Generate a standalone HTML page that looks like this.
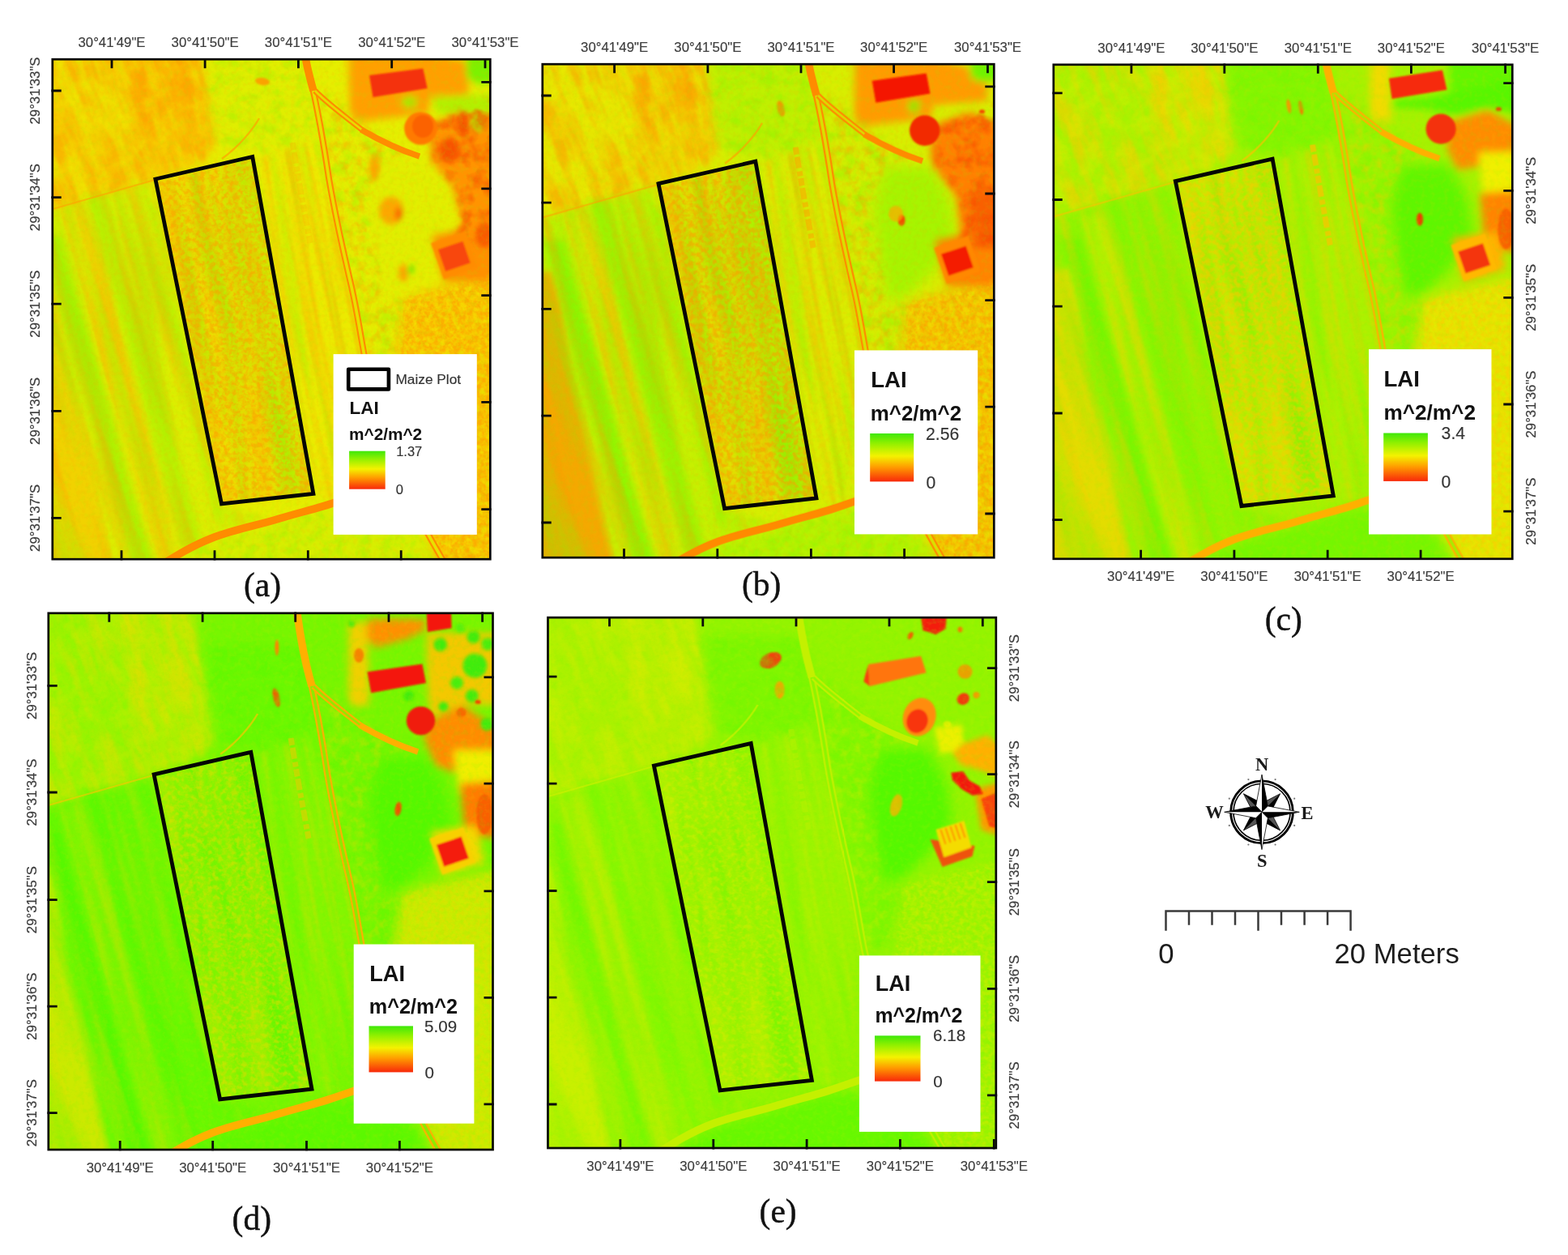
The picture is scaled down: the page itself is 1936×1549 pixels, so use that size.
<!DOCTYPE html>
<html lang="en"><head><meta charset="utf-8"><title>LAI maps of the maize plot</title>
<style>html,body{margin:0;padding:0;background:#fff}body{width:1936px;height:1549px;overflow:hidden}svg{display:block}text{font-family:"Liberation Sans", sans-serif}g[style] text{font-family:inherit}</style>
</head><body>
<svg xmlns="http://www.w3.org/2000/svg" width="1936" height="1549" viewBox="0 0 1936 1549">
<defs>
<linearGradient id="ramp" x1="0" y1="0" x2="0" y2="1"><stop offset="0" stop-color="#3ee80a"/><stop offset="0.2" stop-color="#8ef000"/><stop offset="0.47" stop-color="#f4f200"/><stop offset="0.7" stop-color="#ff9c00"/><stop offset="1" stop-color="#f8280a"/></linearGradient>
<clipPath id="clip_a"><rect x="64" y="72.5" width="542" height="618.5"/></clipPath>
<clipPath id="clip_b"><rect x="669" y="78.5" width="559" height="610.5"/></clipPath>
<clipPath id="clip_c"><rect x="1300" y="79" width="568" height="611.5"/></clipPath>
<clipPath id="clip_d"><rect x="59" y="756" width="550.2" height="663.7"/></clipPath>
<clipPath id="clip_e"><rect x="675.8" y="761.5" width="554.8" height="656.3"/></clipPath>
<filter id="b1" x="-30%" y="-30%" width="160%" height="160%"><feGaussianBlur stdDeviation="1"/></filter>
<filter id="b2" x="-30%" y="-30%" width="160%" height="160%"><feGaussianBlur stdDeviation="2"/></filter>
<filter id="b3" x="-30%" y="-30%" width="160%" height="160%"><feGaussianBlur stdDeviation="3"/></filter>
<filter id="b5" x="-30%" y="-30%" width="160%" height="160%"><feGaussianBlur stdDeviation="5"/></filter>
<filter id="b8" x="-30%" y="-30%" width="160%" height="160%"><feGaussianBlur stdDeviation="8"/></filter>
<filter id="b12" x="-30%" y="-30%" width="160%" height="160%"><feGaussianBlur stdDeviation="12"/></filter>
<filter id="b18" x="-30%" y="-30%" width="160%" height="160%"><feGaussianBlur stdDeviation="18"/></filter>
<filter id="bh" x="-10%" y="-10%" width="120%" height="120%"><feGaussianBlur stdDeviation="0.7"/></filter>
<filter id="tf85a00_40_005_39_40_30_3" x="-6%" y="-6%" width="112%" height="112%" color-interpolation-filters="sRGB"><feTurbulence type="fractalNoise" baseFrequency="0.05" numOctaves="3" seed="39"/><feColorMatrix type="matrix" values="0 0 0 0 0.973 0 0 0 0 0.353 0 0 0 0 0.000 3 0 0 0 -1.14"/><feGaussianBlur stdDeviation="0.6" result="n"/><feGaussianBlur in="SourceAlpha" stdDeviation="4" result="m"/><feComposite in="n" in2="m" operator="in"/></filter>
<filter id="tff9c00_50_0055x0012_3_30_30_3" x="-6%" y="-6%" width="112%" height="112%" color-interpolation-filters="sRGB"><feTurbulence type="fractalNoise" baseFrequency="0.055 0.012" numOctaves="3" seed="3"/><feColorMatrix type="matrix" values="0 0 0 0 1.000 0 0 0 0 0.612 0 0 0 0 0.000 3 0 0 0 -1.00"/><feGaussianBlur stdDeviation="0.6" result="n"/><feGaussianBlur in="SourceAlpha" stdDeviation="3" result="m"/><feComposite in="n" in2="m" operator="in"/></filter>
<filter id="tff9c00_50_008x002_4_30_30_3" x="-6%" y="-6%" width="112%" height="112%" color-interpolation-filters="sRGB"><feTurbulence type="fractalNoise" baseFrequency="0.08 0.02" numOctaves="3" seed="4"/><feColorMatrix type="matrix" values="0 0 0 0 1.000 0 0 0 0 0.612 0 0 0 0 0.000 3 0 0 0 -1.00"/><feGaussianBlur stdDeviation="0.6" result="n"/><feGaussianBlur in="SourceAlpha" stdDeviation="3" result="m"/><feComposite in="n" in2="m" operator="in"/></filter>
<filter id="tf2ee00_35_005_9_30_30_3" x="-6%" y="-6%" width="112%" height="112%" color-interpolation-filters="sRGB"><feTurbulence type="fractalNoise" baseFrequency="0.05" numOctaves="3" seed="9"/><feColorMatrix type="matrix" values="0 0 0 0 0.949 0 0 0 0 0.933 0 0 0 0 0.000 3 0 0 0 -1.20"/><feGaussianBlur stdDeviation="0.6" result="n"/><feGaussianBlur in="SourceAlpha" stdDeviation="3" result="m"/><feComposite in="n" in2="m" operator="in"/></filter>
<filter id="tff9c00_30_006x0004_13_30_30_2" x="-6%" y="-6%" width="112%" height="112%" color-interpolation-filters="sRGB"><feTurbulence type="fractalNoise" baseFrequency="0.06 0.004" numOctaves="2" seed="13"/><feColorMatrix type="matrix" values="0 0 0 0 1.000 0 0 0 0 0.612 0 0 0 0 0.000 3 0 0 0 -1.27"/><feGaussianBlur stdDeviation="0.6" result="n"/><feGaussianBlur in="SourceAlpha" stdDeviation="3" result="m"/><feComposite in="n" in2="m" operator="in"/></filter>
<filter id="t96f200_30_0045x0004_15_30_30_2" x="-6%" y="-6%" width="112%" height="112%" color-interpolation-filters="sRGB"><feTurbulence type="fractalNoise" baseFrequency="0.045 0.004" numOctaves="2" seed="15"/><feColorMatrix type="matrix" values="0 0 0 0 0.588 0 0 0 0 0.949 0 0 0 0 0.000 3 0 0 0 -1.27"/><feGaussianBlur stdDeviation="0.6" result="n"/><feGaussianBlur in="SourceAlpha" stdDeviation="3" result="m"/><feComposite in="n" in2="m" operator="in"/></filter>
<filter id="tff9c00_30_009x0004_23_30_30_2" x="-6%" y="-6%" width="112%" height="112%" color-interpolation-filters="sRGB"><feTurbulence type="fractalNoise" baseFrequency="0.09 0.004" numOctaves="2" seed="23"/><feColorMatrix type="matrix" values="0 0 0 0 1.000 0 0 0 0 0.612 0 0 0 0 0.000 3 0 0 0 -1.27"/><feGaussianBlur stdDeviation="0.6" result="n"/><feGaussianBlur in="SourceAlpha" stdDeviation="3" result="m"/><feComposite in="n" in2="m" operator="in"/></filter>
<filter id="t96f200_24_006x0004_25_30_30_2" x="-6%" y="-6%" width="112%" height="112%" color-interpolation-filters="sRGB"><feTurbulence type="fractalNoise" baseFrequency="0.06 0.004" numOctaves="2" seed="25"/><feColorMatrix type="matrix" values="0 0 0 0 0.588 0 0 0 0 0.949 0 0 0 0 0.000 3 0 0 0 -1.35"/><feGaussianBlur stdDeviation="0.6" result="n"/><feGaussianBlur in="SourceAlpha" stdDeviation="3" result="m"/><feComposite in="n" in2="m" operator="in"/></filter>
<filter id="t96f200_30_006_27_30_30_3" x="-6%" y="-6%" width="112%" height="112%" color-interpolation-filters="sRGB"><feTurbulence type="fractalNoise" baseFrequency="0.06" numOctaves="3" seed="27"/><feColorMatrix type="matrix" values="0 0 0 0 0.588 0 0 0 0 0.949 0 0 0 0 0.000 3 0 0 0 -1.27"/><feGaussianBlur stdDeviation="0.6" result="n"/><feGaussianBlur in="SourceAlpha" stdDeviation="3" result="m"/><feComposite in="n" in2="m" operator="in"/></filter>
<filter id="t96f200_30_006_28_30_30_3" x="-6%" y="-6%" width="112%" height="112%" color-interpolation-filters="sRGB"><feTurbulence type="fractalNoise" baseFrequency="0.06" numOctaves="3" seed="28"/><feColorMatrix type="matrix" values="0 0 0 0 0.588 0 0 0 0 0.949 0 0 0 0 0.000 3 0 0 0 -1.27"/><feGaussianBlur stdDeviation="0.6" result="n"/><feGaussianBlur in="SourceAlpha" stdDeviation="3" result="m"/><feComposite in="n" in2="m" operator="in"/></filter>
<filter id="tff9c00_25_008_29_30_30_3" x="-6%" y="-6%" width="112%" height="112%" color-interpolation-filters="sRGB"><feTurbulence type="fractalNoise" baseFrequency="0.08" numOctaves="3" seed="29"/><feColorMatrix type="matrix" values="0 0 0 0 1.000 0 0 0 0 0.612 0 0 0 0 0.000 3 0 0 0 -1.34"/><feGaussianBlur stdDeviation="0.6" result="n"/><feGaussianBlur in="SourceAlpha" stdDeviation="3" result="m"/><feComposite in="n" in2="m" operator="in"/></filter>
<filter id="t96f200_30_0045x0004_33_10_30_2" x="-6%" y="-6%" width="112%" height="112%" color-interpolation-filters="sRGB"><feTurbulence type="fractalNoise" baseFrequency="0.045 0.004" numOctaves="2" seed="33"/><feColorMatrix type="matrix" values="0 0 0 0 0.588 0 0 0 0 0.949 0 0 0 0 0.000 3 0 0 0 -1.27"/><feGaussianBlur stdDeviation="0.6" result="n"/><feGaussianBlur in="SourceAlpha" stdDeviation="1" result="m"/><feComposite in="n" in2="m" operator="in"/></filter>
<filter id="tff9c00_42_017_31_10_30_3" x="-6%" y="-6%" width="112%" height="112%" color-interpolation-filters="sRGB"><feTurbulence type="fractalNoise" baseFrequency="0.17" numOctaves="3" seed="31"/><feColorMatrix type="matrix" values="0 0 0 0 1.000 0 0 0 0 0.612 0 0 0 0 0.000 3 0 0 0 -1.11"/><feGaussianBlur stdDeviation="0.7" result="n"/><feGaussianBlur in="SourceAlpha" stdDeviation="1" result="m"/><feComposite in="n" in2="m" operator="in"/></filter>
<filter id="tff9c00_33_006x001_32_10_30_2" x="-6%" y="-6%" width="112%" height="112%" color-interpolation-filters="sRGB"><feTurbulence type="fractalNoise" baseFrequency="0.06 0.01" numOctaves="2" seed="32"/><feColorMatrix type="matrix" values="0 0 0 0 1.000 0 0 0 0 0.612 0 0 0 0 0.000 3 0 0 0 -1.22"/><feGaussianBlur stdDeviation="0.6" result="n"/><feGaussianBlur in="SourceAlpha" stdDeviation="1" result="m"/><feComposite in="n" in2="m" operator="in"/></filter>
<filter id="tff9c00_55_02_35_30_30_2" x="-6%" y="-6%" width="112%" height="112%" color-interpolation-filters="sRGB"><feTurbulence type="fractalNoise" baseFrequency="0.2" numOctaves="2" seed="35"/><feColorMatrix type="matrix" values="0 0 0 0 1.000 0 0 0 0 0.612 0 0 0 0 0.000 3 0 0 0 -0.93"/><feGaussianBlur stdDeviation="0.6" result="n"/><feGaussianBlur in="SourceAlpha" stdDeviation="3" result="m"/><feComposite in="n" in2="m" operator="in"/></filter>
<filter id="tf2ee00_30_012_37_30_30_3" x="-6%" y="-6%" width="112%" height="112%" color-interpolation-filters="sRGB"><feTurbulence type="fractalNoise" baseFrequency="0.12" numOctaves="3" seed="37"/><feColorMatrix type="matrix" values="0 0 0 0 0.949 0 0 0 0 0.933 0 0 0 0 0.000 3 0 0 0 -1.27"/><feGaussianBlur stdDeviation="0.6" result="n"/><feGaussianBlur in="SourceAlpha" stdDeviation="3" result="m"/><feComposite in="n" in2="m" operator="in"/></filter>
<filter id="t96f200_35_007_45_30_30_3" x="-6%" y="-6%" width="112%" height="112%" color-interpolation-filters="sRGB"><feTurbulence type="fractalNoise" baseFrequency="0.07" numOctaves="3" seed="45"/><feColorMatrix type="matrix" values="0 0 0 0 0.588 0 0 0 0 0.949 0 0 0 0 0.000 3 0 0 0 -1.20"/><feGaussianBlur stdDeviation="0.6" result="n"/><feGaussianBlur in="SourceAlpha" stdDeviation="3" result="m"/><feComposite in="n" in2="m" operator="in"/></filter>
<filter id="tff9c00_30_017_51_0_40_3" x="-6%" y="-6%" width="112%" height="112%" color-interpolation-filters="sRGB"><feTurbulence type="fractalNoise" baseFrequency="0.17" numOctaves="3" seed="51"/><feColorMatrix type="matrix" values="0 0 0 0 1.000 0 0 0 0 0.612 0 0 0 0 0.000 4 0 0 0 -1.86"/><feGaussianBlur stdDeviation="0.6" result="n"/><feGaussianBlur in="SourceAlpha" stdDeviation="0" result="m"/><feComposite in="n" in2="m" operator="in"/></filter>
<filter id="t96f200_28_015_53_0_40_3" x="-6%" y="-6%" width="112%" height="112%" color-interpolation-filters="sRGB"><feTurbulence type="fractalNoise" baseFrequency="0.15" numOctaves="3" seed="53"/><feColorMatrix type="matrix" values="0 0 0 0 0.588 0 0 0 0 0.949 0 0 0 0 0.000 4 0 0 0 -1.90"/><feGaussianBlur stdDeviation="0.6" result="n"/><feGaussianBlur in="SourceAlpha" stdDeviation="0" result="m"/><feComposite in="n" in2="m" operator="in"/></filter>
<filter id="tf84800_35_005_39_40_30_3" x="-6%" y="-6%" width="112%" height="112%" color-interpolation-filters="sRGB"><feTurbulence type="fractalNoise" baseFrequency="0.05" numOctaves="3" seed="39"/><feColorMatrix type="matrix" values="0 0 0 0 0.973 0 0 0 0 0.282 0 0 0 0 0.000 3 0 0 0 -1.20"/><feGaussianBlur stdDeviation="0.6" result="n"/><feGaussianBlur in="SourceAlpha" stdDeviation="4" result="m"/><feComposite in="n" in2="m" operator="in"/></filter>
<filter id="tff9800_40_0055x0012_3_30_30_3" x="-6%" y="-6%" width="112%" height="112%" color-interpolation-filters="sRGB"><feTurbulence type="fractalNoise" baseFrequency="0.055 0.012" numOctaves="3" seed="3"/><feColorMatrix type="matrix" values="0 0 0 0 1.000 0 0 0 0 0.596 0 0 0 0 0.000 3 0 0 0 -1.14"/><feGaussianBlur stdDeviation="0.6" result="n"/><feGaussianBlur in="SourceAlpha" stdDeviation="3" result="m"/><feComposite in="n" in2="m" operator="in"/></filter>
<filter id="tff9800_40_008x002_4_30_30_3" x="-6%" y="-6%" width="112%" height="112%" color-interpolation-filters="sRGB"><feTurbulence type="fractalNoise" baseFrequency="0.08 0.02" numOctaves="3" seed="4"/><feColorMatrix type="matrix" values="0 0 0 0 1.000 0 0 0 0 0.596 0 0 0 0 0.000 3 0 0 0 -1.14"/><feGaussianBlur stdDeviation="0.6" result="n"/><feGaussianBlur in="SourceAlpha" stdDeviation="3" result="m"/><feComposite in="n" in2="m" operator="in"/></filter>
<filter id="teeee00_35_005_9_30_30_3" x="-6%" y="-6%" width="112%" height="112%" color-interpolation-filters="sRGB"><feTurbulence type="fractalNoise" baseFrequency="0.05" numOctaves="3" seed="9"/><feColorMatrix type="matrix" values="0 0 0 0 0.933 0 0 0 0 0.933 0 0 0 0 0.000 3 0 0 0 -1.20"/><feGaussianBlur stdDeviation="0.6" result="n"/><feGaussianBlur in="SourceAlpha" stdDeviation="3" result="m"/><feComposite in="n" in2="m" operator="in"/></filter>
<filter id="tff9800_25_006x0004_13_30_30_2" x="-6%" y="-6%" width="112%" height="112%" color-interpolation-filters="sRGB"><feTurbulence type="fractalNoise" baseFrequency="0.06 0.004" numOctaves="2" seed="13"/><feColorMatrix type="matrix" values="0 0 0 0 1.000 0 0 0 0 0.596 0 0 0 0 0.000 3 0 0 0 -1.34"/><feGaussianBlur stdDeviation="0.6" result="n"/><feGaussianBlur in="SourceAlpha" stdDeviation="3" result="m"/><feComposite in="n" in2="m" operator="in"/></filter>
<filter id="t84f400_35_0045x0004_15_30_30_2" x="-6%" y="-6%" width="112%" height="112%" color-interpolation-filters="sRGB"><feTurbulence type="fractalNoise" baseFrequency="0.045 0.004" numOctaves="2" seed="15"/><feColorMatrix type="matrix" values="0 0 0 0 0.518 0 0 0 0 0.957 0 0 0 0 0.000 3 0 0 0 -1.20"/><feGaussianBlur stdDeviation="0.6" result="n"/><feGaussianBlur in="SourceAlpha" stdDeviation="3" result="m"/><feComposite in="n" in2="m" operator="in"/></filter>
<filter id="tff9800_25_009x0004_23_30_30_2" x="-6%" y="-6%" width="112%" height="112%" color-interpolation-filters="sRGB"><feTurbulence type="fractalNoise" baseFrequency="0.09 0.004" numOctaves="2" seed="23"/><feColorMatrix type="matrix" values="0 0 0 0 1.000 0 0 0 0 0.596 0 0 0 0 0.000 3 0 0 0 -1.34"/><feGaussianBlur stdDeviation="0.6" result="n"/><feGaussianBlur in="SourceAlpha" stdDeviation="3" result="m"/><feComposite in="n" in2="m" operator="in"/></filter>
<filter id="t84f400_27_006x0004_25_30_30_2" x="-6%" y="-6%" width="112%" height="112%" color-interpolation-filters="sRGB"><feTurbulence type="fractalNoise" baseFrequency="0.06 0.004" numOctaves="2" seed="25"/><feColorMatrix type="matrix" values="0 0 0 0 0.518 0 0 0 0 0.957 0 0 0 0 0.000 3 0 0 0 -1.30"/><feGaussianBlur stdDeviation="0.6" result="n"/><feGaussianBlur in="SourceAlpha" stdDeviation="3" result="m"/><feComposite in="n" in2="m" operator="in"/></filter>
<filter id="t84f400_30_006_27_30_30_3" x="-6%" y="-6%" width="112%" height="112%" color-interpolation-filters="sRGB"><feTurbulence type="fractalNoise" baseFrequency="0.06" numOctaves="3" seed="27"/><feColorMatrix type="matrix" values="0 0 0 0 0.518 0 0 0 0 0.957 0 0 0 0 0.000 3 0 0 0 -1.27"/><feGaussianBlur stdDeviation="0.6" result="n"/><feGaussianBlur in="SourceAlpha" stdDeviation="3" result="m"/><feComposite in="n" in2="m" operator="in"/></filter>
<filter id="t84f400_30_006_28_30_30_3" x="-6%" y="-6%" width="112%" height="112%" color-interpolation-filters="sRGB"><feTurbulence type="fractalNoise" baseFrequency="0.06" numOctaves="3" seed="28"/><feColorMatrix type="matrix" values="0 0 0 0 0.518 0 0 0 0 0.957 0 0 0 0 0.000 3 0 0 0 -1.27"/><feGaussianBlur stdDeviation="0.6" result="n"/><feGaussianBlur in="SourceAlpha" stdDeviation="3" result="m"/><feComposite in="n" in2="m" operator="in"/></filter>
<filter id="tff9800_25_008_29_30_30_3" x="-6%" y="-6%" width="112%" height="112%" color-interpolation-filters="sRGB"><feTurbulence type="fractalNoise" baseFrequency="0.08" numOctaves="3" seed="29"/><feColorMatrix type="matrix" values="0 0 0 0 1.000 0 0 0 0 0.596 0 0 0 0 0.000 3 0 0 0 -1.34"/><feGaussianBlur stdDeviation="0.6" result="n"/><feGaussianBlur in="SourceAlpha" stdDeviation="3" result="m"/><feComposite in="n" in2="m" operator="in"/></filter>
<filter id="t84f400_35_0045x0004_33_10_30_2" x="-6%" y="-6%" width="112%" height="112%" color-interpolation-filters="sRGB"><feTurbulence type="fractalNoise" baseFrequency="0.045 0.004" numOctaves="2" seed="33"/><feColorMatrix type="matrix" values="0 0 0 0 0.518 0 0 0 0 0.957 0 0 0 0 0.000 3 0 0 0 -1.20"/><feGaussianBlur stdDeviation="0.6" result="n"/><feGaussianBlur in="SourceAlpha" stdDeviation="1" result="m"/><feComposite in="n" in2="m" operator="in"/></filter>
<filter id="tff9800_45_017_31_10_30_3" x="-6%" y="-6%" width="112%" height="112%" color-interpolation-filters="sRGB"><feTurbulence type="fractalNoise" baseFrequency="0.17" numOctaves="3" seed="31"/><feColorMatrix type="matrix" values="0 0 0 0 1.000 0 0 0 0 0.596 0 0 0 0 0.000 3 0 0 0 -1.07"/><feGaussianBlur stdDeviation="0.7" result="n"/><feGaussianBlur in="SourceAlpha" stdDeviation="1" result="m"/><feComposite in="n" in2="m" operator="in"/></filter>
<filter id="tff9800_36_006x001_32_10_30_2" x="-6%" y="-6%" width="112%" height="112%" color-interpolation-filters="sRGB"><feTurbulence type="fractalNoise" baseFrequency="0.06 0.01" numOctaves="2" seed="32"/><feColorMatrix type="matrix" values="0 0 0 0 1.000 0 0 0 0 0.596 0 0 0 0 0.000 3 0 0 0 -1.19"/><feGaussianBlur stdDeviation="0.6" result="n"/><feGaussianBlur in="SourceAlpha" stdDeviation="1" result="m"/><feComposite in="n" in2="m" operator="in"/></filter>
<filter id="tff9800_50_02_35_30_30_2" x="-6%" y="-6%" width="112%" height="112%" color-interpolation-filters="sRGB"><feTurbulence type="fractalNoise" baseFrequency="0.2" numOctaves="2" seed="35"/><feColorMatrix type="matrix" values="0 0 0 0 1.000 0 0 0 0 0.596 0 0 0 0 0.000 3 0 0 0 -1.00"/><feGaussianBlur stdDeviation="0.6" result="n"/><feGaussianBlur in="SourceAlpha" stdDeviation="3" result="m"/><feComposite in="n" in2="m" operator="in"/></filter>
<filter id="teeee00_30_012_37_30_30_3" x="-6%" y="-6%" width="112%" height="112%" color-interpolation-filters="sRGB"><feTurbulence type="fractalNoise" baseFrequency="0.12" numOctaves="3" seed="37"/><feColorMatrix type="matrix" values="0 0 0 0 0.933 0 0 0 0 0.933 0 0 0 0 0.000 3 0 0 0 -1.27"/><feGaussianBlur stdDeviation="0.6" result="n"/><feGaussianBlur in="SourceAlpha" stdDeviation="3" result="m"/><feComposite in="n" in2="m" operator="in"/></filter>
<filter id="t84f400_35_007_45_30_30_3" x="-6%" y="-6%" width="112%" height="112%" color-interpolation-filters="sRGB"><feTurbulence type="fractalNoise" baseFrequency="0.07" numOctaves="3" seed="45"/><feColorMatrix type="matrix" values="0 0 0 0 0.518 0 0 0 0 0.957 0 0 0 0 0.000 3 0 0 0 -1.20"/><feGaussianBlur stdDeviation="0.6" result="n"/><feGaussianBlur in="SourceAlpha" stdDeviation="3" result="m"/><feComposite in="n" in2="m" operator="in"/></filter>
<filter id="tff9800_30_017_51_0_40_3" x="-6%" y="-6%" width="112%" height="112%" color-interpolation-filters="sRGB"><feTurbulence type="fractalNoise" baseFrequency="0.17" numOctaves="3" seed="51"/><feColorMatrix type="matrix" values="0 0 0 0 1.000 0 0 0 0 0.596 0 0 0 0 0.000 4 0 0 0 -1.86"/><feGaussianBlur stdDeviation="0.6" result="n"/><feGaussianBlur in="SourceAlpha" stdDeviation="0" result="m"/><feComposite in="n" in2="m" operator="in"/></filter>
<filter id="t84f400_28_015_53_0_40_3" x="-6%" y="-6%" width="112%" height="112%" color-interpolation-filters="sRGB"><feTurbulence type="fractalNoise" baseFrequency="0.15" numOctaves="3" seed="53"/><feColorMatrix type="matrix" values="0 0 0 0 0.518 0 0 0 0 0.957 0 0 0 0 0.000 4 0 0 0 -1.90"/><feGaussianBlur stdDeviation="0.6" result="n"/><feGaussianBlur in="SourceAlpha" stdDeviation="0" result="m"/><feComposite in="n" in2="m" operator="in"/></filter>
<filter id="tffc800_35_0055x0012_3_30_30_3" x="-6%" y="-6%" width="112%" height="112%" color-interpolation-filters="sRGB"><feTurbulence type="fractalNoise" baseFrequency="0.055 0.012" numOctaves="3" seed="3"/><feColorMatrix type="matrix" values="0 0 0 0 1.000 0 0 0 0 0.784 0 0 0 0 0.000 3 0 0 0 -1.20"/><feGaussianBlur stdDeviation="0.6" result="n"/><feGaussianBlur in="SourceAlpha" stdDeviation="3" result="m"/><feComposite in="n" in2="m" operator="in"/></filter>
<filter id="tffc800_35_008x002_4_30_30_3" x="-6%" y="-6%" width="112%" height="112%" color-interpolation-filters="sRGB"><feTurbulence type="fractalNoise" baseFrequency="0.08 0.02" numOctaves="3" seed="4"/><feColorMatrix type="matrix" values="0 0 0 0 1.000 0 0 0 0 0.784 0 0 0 0 0.000 3 0 0 0 -1.20"/><feGaussianBlur stdDeviation="0.6" result="n"/><feGaussianBlur in="SourceAlpha" stdDeviation="3" result="m"/><feComposite in="n" in2="m" operator="in"/></filter>
<filter id="te4ee00_35_005_9_30_30_3" x="-6%" y="-6%" width="112%" height="112%" color-interpolation-filters="sRGB"><feTurbulence type="fractalNoise" baseFrequency="0.05" numOctaves="3" seed="9"/><feColorMatrix type="matrix" values="0 0 0 0 0.894 0 0 0 0 0.933 0 0 0 0 0.000 3 0 0 0 -1.20"/><feGaussianBlur stdDeviation="0.6" result="n"/><feGaussianBlur in="SourceAlpha" stdDeviation="3" result="m"/><feComposite in="n" in2="m" operator="in"/></filter>
<filter id="tffc800_25_006x0004_13_30_30_2" x="-6%" y="-6%" width="112%" height="112%" color-interpolation-filters="sRGB"><feTurbulence type="fractalNoise" baseFrequency="0.06 0.004" numOctaves="2" seed="13"/><feColorMatrix type="matrix" values="0 0 0 0 1.000 0 0 0 0 0.784 0 0 0 0 0.000 3 0 0 0 -1.34"/><feGaussianBlur stdDeviation="0.6" result="n"/><feGaussianBlur in="SourceAlpha" stdDeviation="3" result="m"/><feComposite in="n" in2="m" operator="in"/></filter>
<filter id="t70f600_35_0045x0004_15_30_30_2" x="-6%" y="-6%" width="112%" height="112%" color-interpolation-filters="sRGB"><feTurbulence type="fractalNoise" baseFrequency="0.045 0.004" numOctaves="2" seed="15"/><feColorMatrix type="matrix" values="0 0 0 0 0.439 0 0 0 0 0.965 0 0 0 0 0.000 3 0 0 0 -1.20"/><feGaussianBlur stdDeviation="0.6" result="n"/><feGaussianBlur in="SourceAlpha" stdDeviation="3" result="m"/><feComposite in="n" in2="m" operator="in"/></filter>
<filter id="tffc800_25_009x0004_23_30_30_2" x="-6%" y="-6%" width="112%" height="112%" color-interpolation-filters="sRGB"><feTurbulence type="fractalNoise" baseFrequency="0.09 0.004" numOctaves="2" seed="23"/><feColorMatrix type="matrix" values="0 0 0 0 1.000 0 0 0 0 0.784 0 0 0 0 0.000 3 0 0 0 -1.34"/><feGaussianBlur stdDeviation="0.6" result="n"/><feGaussianBlur in="SourceAlpha" stdDeviation="3" result="m"/><feComposite in="n" in2="m" operator="in"/></filter>
<filter id="t70f600_27_006x0004_25_30_30_2" x="-6%" y="-6%" width="112%" height="112%" color-interpolation-filters="sRGB"><feTurbulence type="fractalNoise" baseFrequency="0.06 0.004" numOctaves="2" seed="25"/><feColorMatrix type="matrix" values="0 0 0 0 0.439 0 0 0 0 0.965 0 0 0 0 0.000 3 0 0 0 -1.30"/><feGaussianBlur stdDeviation="0.6" result="n"/><feGaussianBlur in="SourceAlpha" stdDeviation="3" result="m"/><feComposite in="n" in2="m" operator="in"/></filter>
<filter id="t70f600_30_006_27_30_30_3" x="-6%" y="-6%" width="112%" height="112%" color-interpolation-filters="sRGB"><feTurbulence type="fractalNoise" baseFrequency="0.06" numOctaves="3" seed="27"/><feColorMatrix type="matrix" values="0 0 0 0 0.439 0 0 0 0 0.965 0 0 0 0 0.000 3 0 0 0 -1.27"/><feGaussianBlur stdDeviation="0.6" result="n"/><feGaussianBlur in="SourceAlpha" stdDeviation="3" result="m"/><feComposite in="n" in2="m" operator="in"/></filter>
<filter id="t70f600_30_006_28_30_30_3" x="-6%" y="-6%" width="112%" height="112%" color-interpolation-filters="sRGB"><feTurbulence type="fractalNoise" baseFrequency="0.06" numOctaves="3" seed="28"/><feColorMatrix type="matrix" values="0 0 0 0 0.439 0 0 0 0 0.965 0 0 0 0 0.000 3 0 0 0 -1.27"/><feGaussianBlur stdDeviation="0.6" result="n"/><feGaussianBlur in="SourceAlpha" stdDeviation="3" result="m"/><feComposite in="n" in2="m" operator="in"/></filter>
<filter id="tffc800_25_008_29_30_30_3" x="-6%" y="-6%" width="112%" height="112%" color-interpolation-filters="sRGB"><feTurbulence type="fractalNoise" baseFrequency="0.08" numOctaves="3" seed="29"/><feColorMatrix type="matrix" values="0 0 0 0 1.000 0 0 0 0 0.784 0 0 0 0 0.000 3 0 0 0 -1.34"/><feGaussianBlur stdDeviation="0.6" result="n"/><feGaussianBlur in="SourceAlpha" stdDeviation="3" result="m"/><feComposite in="n" in2="m" operator="in"/></filter>
<filter id="t70f600_35_0045x0004_33_10_30_2" x="-6%" y="-6%" width="112%" height="112%" color-interpolation-filters="sRGB"><feTurbulence type="fractalNoise" baseFrequency="0.045 0.004" numOctaves="2" seed="33"/><feColorMatrix type="matrix" values="0 0 0 0 0.439 0 0 0 0 0.965 0 0 0 0 0.000 3 0 0 0 -1.20"/><feGaussianBlur stdDeviation="0.6" result="n"/><feGaussianBlur in="SourceAlpha" stdDeviation="1" result="m"/><feComposite in="n" in2="m" operator="in"/></filter>
<filter id="tffc800_45_017_31_10_30_3" x="-6%" y="-6%" width="112%" height="112%" color-interpolation-filters="sRGB"><feTurbulence type="fractalNoise" baseFrequency="0.17" numOctaves="3" seed="31"/><feColorMatrix type="matrix" values="0 0 0 0 1.000 0 0 0 0 0.784 0 0 0 0 0.000 3 0 0 0 -1.07"/><feGaussianBlur stdDeviation="0.7" result="n"/><feGaussianBlur in="SourceAlpha" stdDeviation="1" result="m"/><feComposite in="n" in2="m" operator="in"/></filter>
<filter id="tffc800_36_006x001_32_10_30_2" x="-6%" y="-6%" width="112%" height="112%" color-interpolation-filters="sRGB"><feTurbulence type="fractalNoise" baseFrequency="0.06 0.01" numOctaves="2" seed="32"/><feColorMatrix type="matrix" values="0 0 0 0 1.000 0 0 0 0 0.784 0 0 0 0 0.000 3 0 0 0 -1.19"/><feGaussianBlur stdDeviation="0.6" result="n"/><feGaussianBlur in="SourceAlpha" stdDeviation="1" result="m"/><feComposite in="n" in2="m" operator="in"/></filter>
<filter id="tffc800_45_02_35_30_30_2" x="-6%" y="-6%" width="112%" height="112%" color-interpolation-filters="sRGB"><feTurbulence type="fractalNoise" baseFrequency="0.2" numOctaves="2" seed="35"/><feColorMatrix type="matrix" values="0 0 0 0 1.000 0 0 0 0 0.784 0 0 0 0 0.000 3 0 0 0 -1.07"/><feGaussianBlur stdDeviation="0.6" result="n"/><feGaussianBlur in="SourceAlpha" stdDeviation="3" result="m"/><feComposite in="n" in2="m" operator="in"/></filter>
<filter id="te4ee00_30_012_37_30_30_3" x="-6%" y="-6%" width="112%" height="112%" color-interpolation-filters="sRGB"><feTurbulence type="fractalNoise" baseFrequency="0.12" numOctaves="3" seed="37"/><feColorMatrix type="matrix" values="0 0 0 0 0.894 0 0 0 0 0.933 0 0 0 0 0.000 3 0 0 0 -1.27"/><feGaussianBlur stdDeviation="0.6" result="n"/><feGaussianBlur in="SourceAlpha" stdDeviation="3" result="m"/><feComposite in="n" in2="m" operator="in"/></filter>
<filter id="t70f600_35_007_45_30_30_3" x="-6%" y="-6%" width="112%" height="112%" color-interpolation-filters="sRGB"><feTurbulence type="fractalNoise" baseFrequency="0.07" numOctaves="3" seed="45"/><feColorMatrix type="matrix" values="0 0 0 0 0.439 0 0 0 0 0.965 0 0 0 0 0.000 3 0 0 0 -1.20"/><feGaussianBlur stdDeviation="0.6" result="n"/><feGaussianBlur in="SourceAlpha" stdDeviation="3" result="m"/><feComposite in="n" in2="m" operator="in"/></filter>
<filter id="tffc800_30_017_51_0_40_3" x="-6%" y="-6%" width="112%" height="112%" color-interpolation-filters="sRGB"><feTurbulence type="fractalNoise" baseFrequency="0.17" numOctaves="3" seed="51"/><feColorMatrix type="matrix" values="0 0 0 0 1.000 0 0 0 0 0.784 0 0 0 0 0.000 4 0 0 0 -1.86"/><feGaussianBlur stdDeviation="0.6" result="n"/><feGaussianBlur in="SourceAlpha" stdDeviation="0" result="m"/><feComposite in="n" in2="m" operator="in"/></filter>
<filter id="t70f600_28_015_53_0_40_3" x="-6%" y="-6%" width="112%" height="112%" color-interpolation-filters="sRGB"><feTurbulence type="fractalNoise" baseFrequency="0.15" numOctaves="3" seed="53"/><feColorMatrix type="matrix" values="0 0 0 0 0.439 0 0 0 0 0.965 0 0 0 0 0.000 4 0 0 0 -1.90"/><feGaussianBlur stdDeviation="0.6" result="n"/><feGaussianBlur in="SourceAlpha" stdDeviation="0" result="m"/><feComposite in="n" in2="m" operator="in"/></filter>
<filter id="te8dc00_35_0055x0012_3_30_30_3" x="-6%" y="-6%" width="112%" height="112%" color-interpolation-filters="sRGB"><feTurbulence type="fractalNoise" baseFrequency="0.055 0.012" numOctaves="3" seed="3"/><feColorMatrix type="matrix" values="0 0 0 0 0.910 0 0 0 0 0.863 0 0 0 0 0.000 3 0 0 0 -1.20"/><feGaussianBlur stdDeviation="0.6" result="n"/><feGaussianBlur in="SourceAlpha" stdDeviation="3" result="m"/><feComposite in="n" in2="m" operator="in"/></filter>
<filter id="te8dc00_35_008x002_4_30_30_3" x="-6%" y="-6%" width="112%" height="112%" color-interpolation-filters="sRGB"><feTurbulence type="fractalNoise" baseFrequency="0.08 0.02" numOctaves="3" seed="4"/><feColorMatrix type="matrix" values="0 0 0 0 0.910 0 0 0 0 0.863 0 0 0 0 0.000 3 0 0 0 -1.20"/><feGaussianBlur stdDeviation="0.6" result="n"/><feGaussianBlur in="SourceAlpha" stdDeviation="3" result="m"/><feComposite in="n" in2="m" operator="in"/></filter>
<filter id="tc8f000_35_005_9_30_30_3" x="-6%" y="-6%" width="112%" height="112%" color-interpolation-filters="sRGB"><feTurbulence type="fractalNoise" baseFrequency="0.05" numOctaves="3" seed="9"/><feColorMatrix type="matrix" values="0 0 0 0 0.784 0 0 0 0 0.941 0 0 0 0 0.000 3 0 0 0 -1.20"/><feGaussianBlur stdDeviation="0.6" result="n"/><feGaussianBlur in="SourceAlpha" stdDeviation="3" result="m"/><feComposite in="n" in2="m" operator="in"/></filter>
<filter id="te8dc00_25_006x0004_13_30_30_2" x="-6%" y="-6%" width="112%" height="112%" color-interpolation-filters="sRGB"><feTurbulence type="fractalNoise" baseFrequency="0.06 0.004" numOctaves="2" seed="13"/><feColorMatrix type="matrix" values="0 0 0 0 0.910 0 0 0 0 0.863 0 0 0 0 0.000 3 0 0 0 -1.34"/><feGaussianBlur stdDeviation="0.6" result="n"/><feGaussianBlur in="SourceAlpha" stdDeviation="3" result="m"/><feComposite in="n" in2="m" operator="in"/></filter>
<filter id="t54f800_35_0045x0004_15_30_30_2" x="-6%" y="-6%" width="112%" height="112%" color-interpolation-filters="sRGB"><feTurbulence type="fractalNoise" baseFrequency="0.045 0.004" numOctaves="2" seed="15"/><feColorMatrix type="matrix" values="0 0 0 0 0.329 0 0 0 0 0.973 0 0 0 0 0.000 3 0 0 0 -1.20"/><feGaussianBlur stdDeviation="0.6" result="n"/><feGaussianBlur in="SourceAlpha" stdDeviation="3" result="m"/><feComposite in="n" in2="m" operator="in"/></filter>
<filter id="te8dc00_25_009x0004_23_30_30_2" x="-6%" y="-6%" width="112%" height="112%" color-interpolation-filters="sRGB"><feTurbulence type="fractalNoise" baseFrequency="0.09 0.004" numOctaves="2" seed="23"/><feColorMatrix type="matrix" values="0 0 0 0 0.910 0 0 0 0 0.863 0 0 0 0 0.000 3 0 0 0 -1.34"/><feGaussianBlur stdDeviation="0.6" result="n"/><feGaussianBlur in="SourceAlpha" stdDeviation="3" result="m"/><feComposite in="n" in2="m" operator="in"/></filter>
<filter id="t54f800_27_006x0004_25_30_30_2" x="-6%" y="-6%" width="112%" height="112%" color-interpolation-filters="sRGB"><feTurbulence type="fractalNoise" baseFrequency="0.06 0.004" numOctaves="2" seed="25"/><feColorMatrix type="matrix" values="0 0 0 0 0.329 0 0 0 0 0.973 0 0 0 0 0.000 3 0 0 0 -1.30"/><feGaussianBlur stdDeviation="0.6" result="n"/><feGaussianBlur in="SourceAlpha" stdDeviation="3" result="m"/><feComposite in="n" in2="m" operator="in"/></filter>
<filter id="t54f800_30_006_27_30_30_3" x="-6%" y="-6%" width="112%" height="112%" color-interpolation-filters="sRGB"><feTurbulence type="fractalNoise" baseFrequency="0.06" numOctaves="3" seed="27"/><feColorMatrix type="matrix" values="0 0 0 0 0.329 0 0 0 0 0.973 0 0 0 0 0.000 3 0 0 0 -1.27"/><feGaussianBlur stdDeviation="0.6" result="n"/><feGaussianBlur in="SourceAlpha" stdDeviation="3" result="m"/><feComposite in="n" in2="m" operator="in"/></filter>
<filter id="t54f800_30_006_28_30_30_3" x="-6%" y="-6%" width="112%" height="112%" color-interpolation-filters="sRGB"><feTurbulence type="fractalNoise" baseFrequency="0.06" numOctaves="3" seed="28"/><feColorMatrix type="matrix" values="0 0 0 0 0.329 0 0 0 0 0.973 0 0 0 0 0.000 3 0 0 0 -1.27"/><feGaussianBlur stdDeviation="0.6" result="n"/><feGaussianBlur in="SourceAlpha" stdDeviation="3" result="m"/><feComposite in="n" in2="m" operator="in"/></filter>
<filter id="te8dc00_25_008_29_30_30_3" x="-6%" y="-6%" width="112%" height="112%" color-interpolation-filters="sRGB"><feTurbulence type="fractalNoise" baseFrequency="0.08" numOctaves="3" seed="29"/><feColorMatrix type="matrix" values="0 0 0 0 0.910 0 0 0 0 0.863 0 0 0 0 0.000 3 0 0 0 -1.34"/><feGaussianBlur stdDeviation="0.6" result="n"/><feGaussianBlur in="SourceAlpha" stdDeviation="3" result="m"/><feComposite in="n" in2="m" operator="in"/></filter>
<filter id="t54f800_35_0045x0004_33_10_30_2" x="-6%" y="-6%" width="112%" height="112%" color-interpolation-filters="sRGB"><feTurbulence type="fractalNoise" baseFrequency="0.045 0.004" numOctaves="2" seed="33"/><feColorMatrix type="matrix" values="0 0 0 0 0.329 0 0 0 0 0.973 0 0 0 0 0.000 3 0 0 0 -1.20"/><feGaussianBlur stdDeviation="0.6" result="n"/><feGaussianBlur in="SourceAlpha" stdDeviation="1" result="m"/><feComposite in="n" in2="m" operator="in"/></filter>
<filter id="te8dc00_35_017_31_10_30_3" x="-6%" y="-6%" width="112%" height="112%" color-interpolation-filters="sRGB"><feTurbulence type="fractalNoise" baseFrequency="0.17" numOctaves="3" seed="31"/><feColorMatrix type="matrix" values="0 0 0 0 0.910 0 0 0 0 0.863 0 0 0 0 0.000 3 0 0 0 -1.20"/><feGaussianBlur stdDeviation="0.7" result="n"/><feGaussianBlur in="SourceAlpha" stdDeviation="1" result="m"/><feComposite in="n" in2="m" operator="in"/></filter>
<filter id="te8dc00_27_006x001_32_10_30_2" x="-6%" y="-6%" width="112%" height="112%" color-interpolation-filters="sRGB"><feTurbulence type="fractalNoise" baseFrequency="0.06 0.01" numOctaves="2" seed="32"/><feColorMatrix type="matrix" values="0 0 0 0 0.910 0 0 0 0 0.863 0 0 0 0 0.000 3 0 0 0 -1.30"/><feGaussianBlur stdDeviation="0.6" result="n"/><feGaussianBlur in="SourceAlpha" stdDeviation="1" result="m"/><feComposite in="n" in2="m" operator="in"/></filter>
<filter id="te8dc00_45_02_35_30_30_2" x="-6%" y="-6%" width="112%" height="112%" color-interpolation-filters="sRGB"><feTurbulence type="fractalNoise" baseFrequency="0.2" numOctaves="2" seed="35"/><feColorMatrix type="matrix" values="0 0 0 0 0.910 0 0 0 0 0.863 0 0 0 0 0.000 3 0 0 0 -1.07"/><feGaussianBlur stdDeviation="0.6" result="n"/><feGaussianBlur in="SourceAlpha" stdDeviation="3" result="m"/><feComposite in="n" in2="m" operator="in"/></filter>
<filter id="tc8f000_30_012_37_30_30_3" x="-6%" y="-6%" width="112%" height="112%" color-interpolation-filters="sRGB"><feTurbulence type="fractalNoise" baseFrequency="0.12" numOctaves="3" seed="37"/><feColorMatrix type="matrix" values="0 0 0 0 0.784 0 0 0 0 0.941 0 0 0 0 0.000 3 0 0 0 -1.27"/><feGaussianBlur stdDeviation="0.6" result="n"/><feGaussianBlur in="SourceAlpha" stdDeviation="3" result="m"/><feComposite in="n" in2="m" operator="in"/></filter>
<filter id="t54f800_35_007_45_30_30_3" x="-6%" y="-6%" width="112%" height="112%" color-interpolation-filters="sRGB"><feTurbulence type="fractalNoise" baseFrequency="0.07" numOctaves="3" seed="45"/><feColorMatrix type="matrix" values="0 0 0 0 0.329 0 0 0 0 0.973 0 0 0 0 0.000 3 0 0 0 -1.20"/><feGaussianBlur stdDeviation="0.6" result="n"/><feGaussianBlur in="SourceAlpha" stdDeviation="3" result="m"/><feComposite in="n" in2="m" operator="in"/></filter>
<filter id="te8dc00_30_017_51_0_40_3" x="-6%" y="-6%" width="112%" height="112%" color-interpolation-filters="sRGB"><feTurbulence type="fractalNoise" baseFrequency="0.17" numOctaves="3" seed="51"/><feColorMatrix type="matrix" values="0 0 0 0 0.910 0 0 0 0 0.863 0 0 0 0 0.000 4 0 0 0 -1.86"/><feGaussianBlur stdDeviation="0.6" result="n"/><feGaussianBlur in="SourceAlpha" stdDeviation="0" result="m"/><feComposite in="n" in2="m" operator="in"/></filter>
<filter id="t54f800_28_015_53_0_40_3" x="-6%" y="-6%" width="112%" height="112%" color-interpolation-filters="sRGB"><feTurbulence type="fractalNoise" baseFrequency="0.15" numOctaves="3" seed="53"/><feColorMatrix type="matrix" values="0 0 0 0 0.329 0 0 0 0 0.973 0 0 0 0 0.000 4 0 0 0 -1.90"/><feGaussianBlur stdDeviation="0.6" result="n"/><feGaussianBlur in="SourceAlpha" stdDeviation="0" result="m"/><feComposite in="n" in2="m" operator="in"/></filter>
<filter id="te0ea00_30_0055x0012_3_30_30_3" x="-6%" y="-6%" width="112%" height="112%" color-interpolation-filters="sRGB"><feTurbulence type="fractalNoise" baseFrequency="0.055 0.012" numOctaves="3" seed="3"/><feColorMatrix type="matrix" values="0 0 0 0 0.878 0 0 0 0 0.918 0 0 0 0 0.000 3 0 0 0 -1.27"/><feGaussianBlur stdDeviation="0.6" result="n"/><feGaussianBlur in="SourceAlpha" stdDeviation="3" result="m"/><feComposite in="n" in2="m" operator="in"/></filter>
<filter id="te0ea00_30_008x002_4_30_30_3" x="-6%" y="-6%" width="112%" height="112%" color-interpolation-filters="sRGB"><feTurbulence type="fractalNoise" baseFrequency="0.08 0.02" numOctaves="3" seed="4"/><feColorMatrix type="matrix" values="0 0 0 0 0.878 0 0 0 0 0.918 0 0 0 0 0.000 3 0 0 0 -1.27"/><feGaussianBlur stdDeviation="0.6" result="n"/><feGaussianBlur in="SourceAlpha" stdDeviation="3" result="m"/><feComposite in="n" in2="m" operator="in"/></filter>
<filter id="tccf000_35_005_9_30_30_3" x="-6%" y="-6%" width="112%" height="112%" color-interpolation-filters="sRGB"><feTurbulence type="fractalNoise" baseFrequency="0.05" numOctaves="3" seed="9"/><feColorMatrix type="matrix" values="0 0 0 0 0.800 0 0 0 0 0.941 0 0 0 0 0.000 3 0 0 0 -1.20"/><feGaussianBlur stdDeviation="0.6" result="n"/><feGaussianBlur in="SourceAlpha" stdDeviation="3" result="m"/><feComposite in="n" in2="m" operator="in"/></filter>
<filter id="te0ea00_25_006x0004_13_30_30_2" x="-6%" y="-6%" width="112%" height="112%" color-interpolation-filters="sRGB"><feTurbulence type="fractalNoise" baseFrequency="0.06 0.004" numOctaves="2" seed="13"/><feColorMatrix type="matrix" values="0 0 0 0 0.878 0 0 0 0 0.918 0 0 0 0 0.000 3 0 0 0 -1.34"/><feGaussianBlur stdDeviation="0.6" result="n"/><feGaussianBlur in="SourceAlpha" stdDeviation="3" result="m"/><feComposite in="n" in2="m" operator="in"/></filter>
<filter id="t64f800_35_0045x0004_15_30_30_2" x="-6%" y="-6%" width="112%" height="112%" color-interpolation-filters="sRGB"><feTurbulence type="fractalNoise" baseFrequency="0.045 0.004" numOctaves="2" seed="15"/><feColorMatrix type="matrix" values="0 0 0 0 0.392 0 0 0 0 0.973 0 0 0 0 0.000 3 0 0 0 -1.20"/><feGaussianBlur stdDeviation="0.6" result="n"/><feGaussianBlur in="SourceAlpha" stdDeviation="3" result="m"/><feComposite in="n" in2="m" operator="in"/></filter>
<filter id="te0ea00_20_009x0004_23_30_30_2" x="-6%" y="-6%" width="112%" height="112%" color-interpolation-filters="sRGB"><feTurbulence type="fractalNoise" baseFrequency="0.09 0.004" numOctaves="2" seed="23"/><feColorMatrix type="matrix" values="0 0 0 0 0.878 0 0 0 0 0.918 0 0 0 0 0.000 3 0 0 0 -1.41"/><feGaussianBlur stdDeviation="0.6" result="n"/><feGaussianBlur in="SourceAlpha" stdDeviation="3" result="m"/><feComposite in="n" in2="m" operator="in"/></filter>
<filter id="t64f800_27_006x0004_25_30_30_2" x="-6%" y="-6%" width="112%" height="112%" color-interpolation-filters="sRGB"><feTurbulence type="fractalNoise" baseFrequency="0.06 0.004" numOctaves="2" seed="25"/><feColorMatrix type="matrix" values="0 0 0 0 0.392 0 0 0 0 0.973 0 0 0 0 0.000 3 0 0 0 -1.30"/><feGaussianBlur stdDeviation="0.6" result="n"/><feGaussianBlur in="SourceAlpha" stdDeviation="3" result="m"/><feComposite in="n" in2="m" operator="in"/></filter>
<filter id="t64f800_30_006_27_30_30_3" x="-6%" y="-6%" width="112%" height="112%" color-interpolation-filters="sRGB"><feTurbulence type="fractalNoise" baseFrequency="0.06" numOctaves="3" seed="27"/><feColorMatrix type="matrix" values="0 0 0 0 0.392 0 0 0 0 0.973 0 0 0 0 0.000 3 0 0 0 -1.27"/><feGaussianBlur stdDeviation="0.6" result="n"/><feGaussianBlur in="SourceAlpha" stdDeviation="3" result="m"/><feComposite in="n" in2="m" operator="in"/></filter>
<filter id="t64f800_30_006_28_30_30_3" x="-6%" y="-6%" width="112%" height="112%" color-interpolation-filters="sRGB"><feTurbulence type="fractalNoise" baseFrequency="0.06" numOctaves="3" seed="28"/><feColorMatrix type="matrix" values="0 0 0 0 0.392 0 0 0 0 0.973 0 0 0 0 0.000 3 0 0 0 -1.27"/><feGaussianBlur stdDeviation="0.6" result="n"/><feGaussianBlur in="SourceAlpha" stdDeviation="3" result="m"/><feComposite in="n" in2="m" operator="in"/></filter>
<filter id="te0ea00_25_008_29_30_30_3" x="-6%" y="-6%" width="112%" height="112%" color-interpolation-filters="sRGB"><feTurbulence type="fractalNoise" baseFrequency="0.08" numOctaves="3" seed="29"/><feColorMatrix type="matrix" values="0 0 0 0 0.878 0 0 0 0 0.918 0 0 0 0 0.000 3 0 0 0 -1.34"/><feGaussianBlur stdDeviation="0.6" result="n"/><feGaussianBlur in="SourceAlpha" stdDeviation="3" result="m"/><feComposite in="n" in2="m" operator="in"/></filter>
<filter id="t64f800_35_0045x0004_33_10_30_2" x="-6%" y="-6%" width="112%" height="112%" color-interpolation-filters="sRGB"><feTurbulence type="fractalNoise" baseFrequency="0.045 0.004" numOctaves="2" seed="33"/><feColorMatrix type="matrix" values="0 0 0 0 0.392 0 0 0 0 0.973 0 0 0 0 0.000 3 0 0 0 -1.20"/><feGaussianBlur stdDeviation="0.6" result="n"/><feGaussianBlur in="SourceAlpha" stdDeviation="1" result="m"/><feComposite in="n" in2="m" operator="in"/></filter>
<filter id="te0ea00_30_017_31_10_30_3" x="-6%" y="-6%" width="112%" height="112%" color-interpolation-filters="sRGB"><feTurbulence type="fractalNoise" baseFrequency="0.17" numOctaves="3" seed="31"/><feColorMatrix type="matrix" values="0 0 0 0 0.878 0 0 0 0 0.918 0 0 0 0 0.000 3 0 0 0 -1.27"/><feGaussianBlur stdDeviation="0.7" result="n"/><feGaussianBlur in="SourceAlpha" stdDeviation="1" result="m"/><feComposite in="n" in2="m" operator="in"/></filter>
<filter id="te0ea00_24_006x001_32_10_30_2" x="-6%" y="-6%" width="112%" height="112%" color-interpolation-filters="sRGB"><feTurbulence type="fractalNoise" baseFrequency="0.06 0.01" numOctaves="2" seed="32"/><feColorMatrix type="matrix" values="0 0 0 0 0.878 0 0 0 0 0.918 0 0 0 0 0.000 3 0 0 0 -1.35"/><feGaussianBlur stdDeviation="0.6" result="n"/><feGaussianBlur in="SourceAlpha" stdDeviation="1" result="m"/><feComposite in="n" in2="m" operator="in"/></filter>
<filter id="te0ea00_30_02_35_30_30_2" x="-6%" y="-6%" width="112%" height="112%" color-interpolation-filters="sRGB"><feTurbulence type="fractalNoise" baseFrequency="0.2" numOctaves="2" seed="35"/><feColorMatrix type="matrix" values="0 0 0 0 0.878 0 0 0 0 0.918 0 0 0 0 0.000 3 0 0 0 -1.27"/><feGaussianBlur stdDeviation="0.6" result="n"/><feGaussianBlur in="SourceAlpha" stdDeviation="3" result="m"/><feComposite in="n" in2="m" operator="in"/></filter>
<filter id="tccf000_30_012_37_30_30_3" x="-6%" y="-6%" width="112%" height="112%" color-interpolation-filters="sRGB"><feTurbulence type="fractalNoise" baseFrequency="0.12" numOctaves="3" seed="37"/><feColorMatrix type="matrix" values="0 0 0 0 0.800 0 0 0 0 0.941 0 0 0 0 0.000 3 0 0 0 -1.27"/><feGaussianBlur stdDeviation="0.6" result="n"/><feGaussianBlur in="SourceAlpha" stdDeviation="3" result="m"/><feComposite in="n" in2="m" operator="in"/></filter>
<filter id="t64f800_35_007_45_30_30_3" x="-6%" y="-6%" width="112%" height="112%" color-interpolation-filters="sRGB"><feTurbulence type="fractalNoise" baseFrequency="0.07" numOctaves="3" seed="45"/><feColorMatrix type="matrix" values="0 0 0 0 0.392 0 0 0 0 0.973 0 0 0 0 0.000 3 0 0 0 -1.20"/><feGaussianBlur stdDeviation="0.6" result="n"/><feGaussianBlur in="SourceAlpha" stdDeviation="3" result="m"/><feComposite in="n" in2="m" operator="in"/></filter>
<filter id="te0ea00_30_017_51_0_40_3" x="-6%" y="-6%" width="112%" height="112%" color-interpolation-filters="sRGB"><feTurbulence type="fractalNoise" baseFrequency="0.17" numOctaves="3" seed="51"/><feColorMatrix type="matrix" values="0 0 0 0 0.878 0 0 0 0 0.918 0 0 0 0 0.000 4 0 0 0 -1.86"/><feGaussianBlur stdDeviation="0.6" result="n"/><feGaussianBlur in="SourceAlpha" stdDeviation="0" result="m"/><feComposite in="n" in2="m" operator="in"/></filter>
<filter id="t64f800_28_015_53_0_40_3" x="-6%" y="-6%" width="112%" height="112%" color-interpolation-filters="sRGB"><feTurbulence type="fractalNoise" baseFrequency="0.15" numOctaves="3" seed="53"/><feColorMatrix type="matrix" values="0 0 0 0 0.392 0 0 0 0 0.973 0 0 0 0 0.000 4 0 0 0 -1.90"/><feGaussianBlur stdDeviation="0.6" result="n"/><feGaussianBlur in="SourceAlpha" stdDeviation="0" result="m"/><feComposite in="n" in2="m" operator="in"/></filter>
</defs>
<rect width="1936" height="1549" fill="#fff"/>
<g clip-path="url(#clip_a)"><g transform="translate(0 0)">
<rect x="61" y="69.5" width="548" height="624.5" fill="#e6ee00"/>
<g filter="url(#b8)">
<polygon points="30,10 240,10 247,72 266,172 252,200 191,222 30,268" fill="#f0dc00"/>
<polygon points="130,10 240,10 247,72 266,172 248,198 200,214 168,150 150,80" fill="#f8c400" opacity="0.7"/>
<polygon points="247,60 372,60 398,168 316,192 266,174" fill="#e0ee00"/>
<polygon points="30,268 191,222 272.7,623.6 330,640 255,662 204,692 30,700" fill="#dcee00"/>
<polygon points="388,100 450,150 500,190 470,200 456,250 474,366 498,372 492,437 452,450 420,300 400,170" fill="#e4ee00"/>
<polygon points="498,370 520,362 560,352 625,338 625,710 548,710 528,660 500,600 480,540 492,437" fill="#f8c800"/>
<polygon points="196,710 262,668 345,644 420,622 500,640 520,664 548,710" fill="#d8ee00"/>
<polygon points="470,200 530,200 552,240 560,290 530,330 500,360 474,366 462,300 456,250" fill="#e2ee00"/>
<polygon points="316,196 400,170 420,300 450,440 420,618 392,612" fill="#ecea00"/>
</g>
<g filter="url(#b5)">
<polygon points="192.9,223.2 311.7,193.5 386.9,609.3 273.5,621.9" fill="#ecdf00"/>
<polygon points="272,203 311.7,193.5 386.9,609.3 345,614" fill="#c0f000" opacity="0.55"/>
<polygon points="30,330 66,330 84,450 140,710 30,710" fill="#f4cc00" opacity="0.85"/>
<polygon points="49.2,290 75.2,290 190,700 164,700" fill="#b0f000"/>
<polygon points="73.4,262 103.4,262 226,700 196,700" fill="#f0d800" opacity="0.6"/>
<polygon points="107.3,240 133.3,240 252.1,680 226.1,680" fill="#bcf000"/>
<polygon points="183,250 195,250 276.9,640 264.9,640" fill="#c4f000" opacity="0.9"/>
</g>
<g filter="url(#b5)"><polygon points="430,66 532,66 580,76 578,120 530,124 529,140 442,150 432,140" fill="#ffa000"/><polygon points="575,66 625,66 625,100 590,104 576,96" fill="#7cf200"/><polygon points="532,119 625,116 625,140 590,142 540,140" fill="#b4f000"/><polygon points="497,120 514,120 514,132 497,132" fill="#8cf200"/><polygon points="508,146 531,170 535,203 556,224 564,244 571,277 556,292 572,296 625,300 625,140 590,142 560,140 540,152" fill="#ff9400"/><polygon points="533,291 590,280 625,290 625,350 548,348" fill="#ff9000"/></g><g filter="url(#b3)"><ellipse cx="554.7" cy="185.5" rx="13" ry="15" fill="#f64a00" opacity="0.9"/><ellipse cx="598" cy="290" rx="10" ry="16" fill="#f85000" opacity="0.8"/><ellipse cx="572" cy="153" rx="8" ry="15" fill="#f24400" opacity="0.8"/><ellipse cx="462" cy="207" rx="6" ry="17" fill="#ff9c00" opacity="0.9"/><ellipse cx="483" cy="260" rx="15" ry="17" fill="#ffa000" opacity="0.9"/><ellipse cx="492" cy="264" rx="4" ry="8" fill="#f85a00" opacity="0.9"/><ellipse cx="498" cy="337" rx="6" ry="11" fill="#ff9c00" opacity="0.9"/><ellipse cx="507.4" cy="332.8" rx="3.5" ry="6" fill="#50f000" opacity="0.9" transform="rotate(15 507.4 332.8)"/><ellipse cx="590" cy="150" rx="9" ry="12" fill="#a8f000" opacity="0.9"/></g><polygon points="508,146 531,170 535,203 556,224 564,244 571,277 560,290 572,296 625,300 625,118 590,128 560,140 540,152" fill="#000" opacity="0.7" filter="url(#tf85a00_40_005_39_40_30_3)"/>
<g transform="rotate(-21.8 148 139)" opacity="0.55"><polygon points="86.3,-24.6 281.3,53.4 264.8,113.6 245.3,213.5 221.9,234.3 157.1,232 -9.5,214.9" filter="url(#tff9c00_50_0055x0012_3_30_30_3)"/></g>
<g transform="rotate(-16.7 198 112)" opacity="0.44"><polygon points="162.2,-5.2 267.5,26.4 256.4,87.8 245.9,189 221.2,208.7 170.6,210.3 158.3,139.8 161.2,67.6" filter="url(#tff9c00_50_008x002_4_30_30_3)"/></g>
<polygon points="30,10 240,10 247,72 266,172 252,200 191,222 30,268" fill="#000" opacity="0.33" filter="url(#tf2ee00_35_005_9_30_30_3)"/>
<g transform="rotate(-15.64 180 461)" opacity="0.39"><polygon points="87.6,234.7 255,233.8 225.4,642.6 276.2,673.8 198,674.8 140.8,689.9 -28.9,650.7" filter="url(#tff9c00_30_006x0004_13_30_30_2)"/></g>
<g transform="rotate(-15.64 180 461)" opacity="0.39"><polygon points="87.6,234.7 255,233.8 225.4,642.6 276.2,673.8 198,674.8 140.8,689.9 -28.9,650.7" filter="url(#t96f200_30_0045x0004_15_30_30_2)"/></g>
<g transform="rotate(-10.76 383 394)" opacity="0.39"><polygon points="354.1,187 441.5,177.1 436.9,308.6 440.2,451.7 377.5,621 351.1,609.8" filter="url(#tff9c00_30_009x0004_23_30_30_2)"/></g>
<g transform="rotate(-10.76 383 394)" opacity="0.39"><polygon points="354.1,187 441.5,177.1 436.9,308.6 440.2,451.7 377.5,621 351.1,609.8" filter="url(#t96f200_24_006x0004_25_30_30_2)"/></g>
<polygon points="247,60 372,60 398,168 316,192 266,174" fill="#000" opacity="0.39" filter="url(#t96f200_30_006_27_30_30_3)"/>
<polygon points="388,100 450,150 500,190 470,200 456,250 474,366 498,372 492,437 452,450 420,300 400,170" fill="#000" opacity="0.39" filter="url(#t96f200_30_006_28_30_30_3)"/>
<polygon points="388,100 450,150 500,190 470,200 456,250 474,366 498,372 492,437 452,450 420,300 400,170" fill="#000" opacity="0.39" filter="url(#tff9c00_25_008_29_30_30_3)"/>
<g transform="rotate(-10.76 290 407.8)" opacity="0.55"><polygon points="230.4,209.9 349.9,202.6 346.4,622.3 235.6,614" filter="url(#t96f200_30_0045x0004_33_10_30_2)"/></g>
<polygon points="194.5,224.5 310.5,195 385.5,608 275,620.5" fill="#000" opacity="0.55" filter="url(#tff9c00_42_017_31_10_30_3)"/>
<g transform="rotate(-10.76 290 407.8)" opacity="0.28"><polygon points="230.4,209.9 349.9,202.6 346.4,622.3 235.6,614" filter="url(#tff9c00_33_006x001_32_10_30_2)"/></g>
<polygon points="498,370 520,362 560,352 625,338 625,710 548,710 528,660 500,600 480,540 492,437" fill="#000" opacity="0.55" filter="url(#tff9c00_55_02_35_30_30_2)"/>
<polygon points="498,370 520,362 560,352 625,338 625,710 548,710 528,660 500,600 480,540 492,437" fill="#000" opacity="0.55" filter="url(#tf2ee00_30_012_37_30_30_3)"/>
<polygon points="196,710 262,668 345,644 420,622 500,640 520,664 548,710" fill="#000" opacity="0.39" filter="url(#t96f200_35_007_45_30_30_3)"/>
<polygon points="61,69.5 609,69.5 609,694 61,694" fill="#000" opacity="0.1" filter="url(#tff9c00_30_017_51_0_40_3)"/>
<polygon points="61,69.5 609,69.5 609,694 61,694" fill="#000" opacity="0.09" filter="url(#t96f200_28_015_53_0_40_3)"/>
<g filter="url(#bh)"><path d="M190 703C214 688 236 674 262 664C290 653 320 648 345 640C372 632 398 626 420 618L452 607" fill="none" stroke="#ff8c00" stroke-width="9.5" stroke-linecap="round"/><path d="M366 0C371 40 376 72 384 100C391 130 400 180 406 220C412 255 426 320 434 354C442 390 446 420 452 450C464 500 484 560 500 600C512 630 528 660 552 700" fill="none" stroke="#ff8c00" stroke-width="8"/><path d="M366 0C371 40 376 72 384 100C391 130 400 180 406 220C412 255 426 320 434 354C442 390 446 420 452 450C464 500 484 560 500 600C512 630 528 660 552 700" fill="none" stroke="#e4ee00" stroke-width="3.6" opacity="0.85"/><path d="M366 0C371 40 376 74 387 112" fill="none" stroke="#ff8c00" stroke-width="9.5"/><path d="M389 112C402 126 424 142 448 161" fill="none" stroke="#ff8c00" stroke-width="7"/><path d="M389 112C402 126 424 142 448 161" fill="none" stroke="#e4ee00" stroke-width="2.6" opacity="0.8"/><path d="M446 160C470 174 496 186 518 193" fill="none" stroke="#ff8c00" stroke-width="7.5"/><path d="M30 268L191 222" fill="none" stroke="#ffa200" stroke-width="2" opacity="0.6"/><path d="M274 196C296 180 312 160 320 146" fill="none" stroke="#ffa200" stroke-width="2.4" opacity="0.7"/><path d="M361 176L372 240L383 300" fill="none" stroke="#ffa200" stroke-width="7" opacity="0.25" stroke-dasharray="9 3 14 4 6 3"/></g>
<g filter="url(#b1)"><polygon points="532,300 574,286 589,329 548,345" fill="#ff8c00"/><polygon points="540.8,307.9 571.5,297.7 580.8,324.6 550.1,334.9" fill="#f8460a"/><polygon points="456,93 522.3,84.4 527.6,109 460.5,120" fill="#f4300c"/><circle cx="519.4" cy="158.5" r="20.3" fill="#ff7a00"/><ellipse cx="522" cy="156" rx="13" ry="14" fill="#fa5c08" opacity="0.8"/><ellipse cx="324" cy="100.5" rx="9" ry="4.5" fill="#ff9a00" opacity="0.9" transform="rotate(8 324 100.5)"/></g>
</g></g>
<polygon points="191.9,221 311.7,193.5 386.9,609.3 273.5,621.9" fill="none" stroke="#050505" stroke-width="4.8" stroke-linejoin="miter"/>
<rect x="411.6" y="437.1" width="177.2" height="222.8" fill="#fff"/>
<rect x="430.2" y="455.8" width="49.7" height="24.6" fill="#fff" stroke="#000" stroke-width="4.6" stroke-linejoin="round"/>
<text x="488.4" y="474.4" font-size="17.3" fill="#333" stroke="#333" stroke-width="0.15">Maize Plot</text>
<text x="431.5" y="511.1" font-size="22.5" font-weight="bold" fill="#111">LAI</text>
<text x="431" y="543.1" font-size="20.8" font-weight="bold" fill="#111">m^2/m^2</text>
<rect x="431.1" y="556.7" width="44.6" height="47" fill="url(#ramp)"/>
<text x="489.2" y="562.8" font-size="16.5" fill="#333" stroke="#333" stroke-width="0.15">1.37</text>
<text x="488.8" y="610.2" font-size="16.5" fill="#333" stroke="#333" stroke-width="0.15">0</text>
<rect x="64.8" y="73.2" width="540.5" height="617" fill="none" stroke="#0a0a0a" stroke-width="2.7"/>
<path d="M138 71.9v12.3M253.1 71.9v12.3M368.4 71.9v12.3M483.7 71.9v12.3M599 71.9v12.3M150 691.6v-12.3M265 691.6v-12.3M380.3 691.6v-12.3M495.2 691.6v-12.3M63.4 112h12.3M63.4 243.6h12.3M63.4 375.1h12.3M63.4 507.4h12.3M63.4 639.4h12.3M606.6 101.3h-12.3M606.6 232.9h-12.3M606.6 364.6h-12.3M606.6 496.4h-12.3M606.6 628.6h-12.3" stroke="#0a0a0a" stroke-width="2.8" fill="none"/>
<g font-size="16.8" fill="#3c3c3c" stroke="#3c3c3c" stroke-width="0.18" text-anchor="middle"><text x="138" y="58.3">30°41'49&quot;E</text><text x="253.1" y="58.3">30°41'50&quot;E</text><text x="368.4" y="58.3">30°41'51&quot;E</text><text x="483.7" y="58.3">30°41'52&quot;E</text><text x="599" y="58.3">30°41'53&quot;E</text><text transform="translate(49.4 112) rotate(-90)">29°31'33&quot;S</text><text transform="translate(49.4 243.6) rotate(-90)">29°31'34&quot;S</text><text transform="translate(49.4 375.1) rotate(-90)">29°31'35&quot;S</text><text transform="translate(49.4 507.4) rotate(-90)">29°31'36&quot;S</text><text transform="translate(49.4 639.4) rotate(-90)">29°31'37&quot;S</text></g>
<text x="324" y="736" style='font-family:"Liberation Serif", serif' font-size="41.5" text-anchor="middle" fill="#111" stroke="#111" stroke-width="0.45">(a)</text>
<g clip-path="url(#clip_b)"><g transform="translate(621.1 5.7)">
<rect x="44.9" y="69.8" width="565" height="616.5" fill="#d8ee00"/>
<g filter="url(#b8)">
<polygon points="30,10 240,10 247,72 266,172 252,200 191,222 30,268" fill="#e6e600"/>
<polygon points="130,10 240,10 247,72 266,172 248,198 200,214 168,150 150,80" fill="#f0d000" opacity="0.7"/>
<polygon points="247,60 372,60 398,168 316,192 266,174" fill="#c0f000"/>
<polygon points="30,268 191,222 272.7,623.6 330,640 255,662 204,692 30,700" fill="#c8f000"/>
<polygon points="388,100 450,150 500,190 470,200 456,250 474,366 498,372 492,437 452,450 420,300 400,170" fill="#d4ee00"/>
<polygon points="498,370 520,362 560,352 625,338 625,710 548,710 528,660 500,600 480,540 492,437" fill="#f2c800"/>
<polygon points="196,710 262,668 345,644 420,622 500,640 520,664 548,710" fill="#b8f200"/>
<polygon points="470,200 530,200 552,240 560,290 530,330 500,360 474,366 462,300 456,250" fill="#a8f400"/>
<polygon points="316,196 400,170 420,300 450,440 420,618 392,612" fill="#dcec00"/>
</g>
<g filter="url(#b5)">
<polygon points="192.9,223.2 311.7,193.5 386.9,609.3 273.5,621.9" fill="#e0e200"/>
<polygon points="272,203 311.7,193.5 386.9,609.3 345,614" fill="#a8f400" opacity="0.75"/>
<polygon points="30,330 66,330 84,450 140,710 30,710" fill="#fc9c00" opacity="0.85"/>
<polygon points="49.2,290 75.2,290 190,700 164,700" fill="#94f400"/>
<polygon points="73.4,262 103.4,262 226,700 196,700" fill="#ecde00" opacity="0.6"/>
<polygon points="107.3,240 133.3,240 252.1,680 226.1,680" fill="#a0f200"/>
<polygon points="183,250 195,250 276.9,640 264.9,640" fill="#a8f200" opacity="0.9"/>
</g>
<g filter="url(#b5)"><polygon points="434,66 532,66 598,84 598,119 530,124 529,140 442,150 434,140" fill="#ff9c00"/><polygon points="576,66 625,66 625,93 590,96 577,90" fill="#70f400"/><polygon points="501,119 514,119 514,132 501,132" fill="#6cf400"/><polygon points="538.4,145.2 579.3,132.1 625,160 625,303 566.3,303 560.7,238.1 532.8,201 527.3,182.3" fill="#ff8000"/><polygon points="533,291 590,280 625,290 625,350 548,348" fill="#ff8400"/><polygon points="575,230 625,230 625,300 580,300" fill="#f85800" opacity="0.8"/></g><g filter="url(#b1)"><ellipse cx="492" cy="266" rx="4.5" ry="7" fill="#f84000" opacity="0.95"/><ellipse cx="343" cy="128.4" rx="4.5" ry="10" fill="#ff8a00" opacity="0.9" transform="rotate(-12 343 128.4)"/><ellipse cx="591.4" cy="132" rx="3.5" ry="2.5" fill="#f83000" opacity="0.9"/><ellipse cx="485" cy="258" rx="9" ry="10" fill="#ffa800" opacity="0.7"/></g><polygon points="508,146 531,170 535,203 556,224 564,244 571,277 560,290 572,296 625,300 625,118 590,128 560,140 540,152" fill="#000" opacity="0.6" filter="url(#tf84800_35_005_39_40_30_3)"/>
<g transform="rotate(-21.8 148 139)" opacity="0.55"><polygon points="86.3,-24.6 281.3,53.4 264.8,113.6 245.3,213.5 221.9,234.3 157.1,232 -9.5,214.9" filter="url(#tff9800_40_0055x0012_3_30_30_3)"/></g>
<g transform="rotate(-16.7 198 112)" opacity="0.44"><polygon points="162.2,-5.2 267.5,26.4 256.4,87.8 245.9,189 221.2,208.7 170.6,210.3 158.3,139.8 161.2,67.6" filter="url(#tff9800_40_008x002_4_30_30_3)"/></g>
<polygon points="30,10 240,10 247,72 266,172 252,200 191,222 30,268" fill="#000" opacity="0.33" filter="url(#teeee00_35_005_9_30_30_3)"/>
<g transform="rotate(-15.64 180 461)" opacity="0.39"><polygon points="87.6,234.7 255,233.8 225.4,642.6 276.2,673.8 198,674.8 140.8,689.9 -28.9,650.7" filter="url(#tff9800_25_006x0004_13_30_30_2)"/></g>
<g transform="rotate(-15.64 180 461)" opacity="0.39"><polygon points="87.6,234.7 255,233.8 225.4,642.6 276.2,673.8 198,674.8 140.8,689.9 -28.9,650.7" filter="url(#t84f400_35_0045x0004_15_30_30_2)"/></g>
<g transform="rotate(-10.76 383 394)" opacity="0.39"><polygon points="354.1,187 441.5,177.1 436.9,308.6 440.2,451.7 377.5,621 351.1,609.8" filter="url(#tff9800_25_009x0004_23_30_30_2)"/></g>
<g transform="rotate(-10.76 383 394)" opacity="0.39"><polygon points="354.1,187 441.5,177.1 436.9,308.6 440.2,451.7 377.5,621 351.1,609.8" filter="url(#t84f400_27_006x0004_25_30_30_2)"/></g>
<polygon points="247,60 372,60 398,168 316,192 266,174" fill="#000" opacity="0.39" filter="url(#t84f400_30_006_27_30_30_3)"/>
<polygon points="388,100 450,150 500,190 470,200 456,250 474,366 498,372 492,437 452,450 420,300 400,170" fill="#000" opacity="0.39" filter="url(#t84f400_30_006_28_30_30_3)"/>
<polygon points="388,100 450,150 500,190 470,200 456,250 474,366 498,372 492,437 452,450 420,300 400,170" fill="#000" opacity="0.39" filter="url(#tff9800_25_008_29_30_30_3)"/>
<g transform="rotate(-10.76 290 407.8)" opacity="0.55"><polygon points="230.4,209.9 349.9,202.6 346.4,622.3 235.6,614" filter="url(#t84f400_35_0045x0004_33_10_30_2)"/></g>
<polygon points="194.5,224.5 310.5,195 385.5,608 275,620.5" fill="#000" opacity="0.55" filter="url(#tff9800_45_017_31_10_30_3)"/>
<g transform="rotate(-10.76 290 407.8)" opacity="0.28"><polygon points="230.4,209.9 349.9,202.6 346.4,622.3 235.6,614" filter="url(#tff9800_36_006x001_32_10_30_2)"/></g>
<polygon points="498,370 520,362 560,352 625,338 625,710 548,710 528,660 500,600 480,540 492,437" fill="#000" opacity="0.55" filter="url(#tff9800_50_02_35_30_30_2)"/>
<polygon points="498,370 520,362 560,352 625,338 625,710 548,710 528,660 500,600 480,540 492,437" fill="#000" opacity="0.55" filter="url(#teeee00_30_012_37_30_30_3)"/>
<polygon points="196,710 262,668 345,644 420,622 500,640 520,664 548,710" fill="#000" opacity="0.39" filter="url(#t84f400_35_007_45_30_30_3)"/>
<polygon points="44.9,69.8 609.9,69.8 609.9,686.3 44.9,686.3" fill="#000" opacity="0.1" filter="url(#tff9800_30_017_51_0_40_3)"/>
<polygon points="44.9,69.8 609.9,69.8 609.9,686.3 44.9,686.3" fill="#000" opacity="0.09" filter="url(#t84f400_28_015_53_0_40_3)"/>
<g filter="url(#bh)"><path d="M190 703C214 688 236 674 262 664C290 653 320 648 345 640C372 632 398 626 420 618L452 607" fill="none" stroke="#ff8a00" stroke-width="9.5" stroke-linecap="round"/><path d="M366 0C371 40 376 72 384 100C391 130 400 180 406 220C412 255 426 320 434 354C442 390 446 420 452 450C464 500 484 560 500 600C512 630 528 660 552 700" fill="none" stroke="#ff8a00" stroke-width="8"/><path d="M366 0C371 40 376 72 384 100C391 130 400 180 406 220C412 255 426 320 434 354C442 390 446 420 452 450C464 500 484 560 500 600C512 630 528 660 552 700" fill="none" stroke="#d4ee00" stroke-width="3.6" opacity="0.85"/><path d="M366 0C371 40 376 74 387 112" fill="none" stroke="#ff8a00" stroke-width="9.5"/><path d="M389 112C402 126 424 142 448 161" fill="none" stroke="#ff8a00" stroke-width="7"/><path d="M389 112C402 126 424 142 448 161" fill="none" stroke="#d4ee00" stroke-width="2.6" opacity="0.8"/><path d="M446 160C470 174 496 186 518 193" fill="none" stroke="#ff8a00" stroke-width="7.5"/><path d="M30 268L191 222" fill="none" stroke="#ffa000" stroke-width="2" opacity="0.6"/><path d="M274 196C296 180 312 160 320 146" fill="none" stroke="#ffa000" stroke-width="2.4" opacity="0.7"/><path d="M361 176L372 240L383 300" fill="none" stroke="#ffa000" stroke-width="7" opacity="0.55" stroke-dasharray="9 3 14 4 6 3"/></g>
<g filter="url(#b1)"><polygon points="532,300 574,286 589,329 548,345" fill="#ff8800"/><polygon points="540.8,307.9 571.5,297.7 580.8,324.6 550.1,334.9" fill="#f41c04"/><polygon points="455.7,94 522.6,84.7 527.3,109.8 460.3,121" fill="#f41200"/><circle cx="520.7" cy="155.4" r="18.8" fill="#f22c04"/></g>
</g></g>
<polygon points="813,226.7 932.8,199.2 1008,615 894.6,627.6" fill="none" stroke="#050505" stroke-width="4.8" stroke-linejoin="miter"/>
<rect x="1055" y="432.4" width="152.2" height="227" fill="#fff"/>
<text x="1075.2" y="477.6" font-size="27.6" font-weight="bold" fill="#111">LAI</text>
<text x="1074.8" y="518.5" font-size="25.9" font-weight="bold" fill="#111">m^2/m^2</text>
<rect x="1074.2" y="535" width="54" height="59.4" fill="url(#ramp)"/>
<text x="1143" y="542.7" font-size="21.2" fill="#333" stroke="#333" stroke-width="0.15">2.56</text>
<text x="1143.6" y="602.7" font-size="21.2" fill="#333" stroke="#333" stroke-width="0.15">0</text>
<rect x="669.8" y="79.2" width="557.5" height="609" fill="none" stroke="#0a0a0a" stroke-width="2.7"/>
<path d="M758.6 77.9v12.3M873.9 77.9v12.3M989 77.9v12.3M1103.6 77.9v12.3M1219.5 77.9v12.3M770.5 689.6v-12.3M885.8 689.6v-12.3M1001.4 689.6v-12.3M1116.6 689.6v-12.3M668.4 118h12.3M668.4 250.2h12.3M668.4 381.3h12.3M668.4 513.2h12.3M668.4 645h12.3M1228.6 106.8h-12.3M1228.6 239h-12.3M1228.6 370.7h-12.3M1228.6 502.2h-12.3M1228.6 634h-12.3" stroke="#0a0a0a" stroke-width="2.8" fill="none"/>
<g font-size="16.8" fill="#3c3c3c" stroke="#3c3c3c" stroke-width="0.18" text-anchor="middle"><text x="758.6" y="64.1">30°41'49&quot;E</text><text x="873.9" y="64.1">30°41'50&quot;E</text><text x="989" y="64.1">30°41'51&quot;E</text><text x="1103.6" y="64.1">30°41'52&quot;E</text><text x="1219.5" y="64.1">30°41'53&quot;E</text></g>
<text x="940.2" y="734.7" style='font-family:"Liberation Serif", serif' font-size="41.5" text-anchor="middle" fill="#111" stroke="#111" stroke-width="0.45">(b)</text>
<g clip-path="url(#clip_c)"><g transform="translate(1259.4 2.6)">
<rect x="37.6" y="73.4" width="574" height="617.5" fill="#a6f200"/>
<g filter="url(#b8)">
<polygon points="30,10 240,10 247,72 266,172 252,200 191,222 30,268" fill="#acf200"/>
<polygon points="130,10 240,10 247,72 266,172 248,198 200,214 168,150 150,80" fill="#c4ee00" opacity="0.7"/>
<polygon points="247,60 372,60 398,168 316,192 266,174" fill="#86f600"/>
<polygon points="30,268 191,222 272.7,623.6 330,640 255,662 204,692 30,700" fill="#98f400"/>
<polygon points="388,100 450,150 500,190 470,200 456,250 474,366 498,372 492,437 452,450 420,300 400,170" fill="#9cf400"/>
<polygon points="498,370 520,362 560,352 625,338 625,710 548,710 528,660 500,600 480,540 492,437" fill="#e4e600"/>
<polygon points="196,710 262,668 345,644 420,622 500,640 520,664 548,710" fill="#78f600"/>
<polygon points="470,200 530,200 552,240 560,290 530,330 500,360 474,366 462,300 456,250" fill="#5ef600"/>
<polygon points="316,196 400,170 420,300 450,440 420,618 392,612" fill="#acf200"/>
</g>
<g filter="url(#b5)">
<polygon points="192.9,223.2 311.7,193.5 386.9,609.3 273.5,621.9" fill="#c4ee00"/>
<polygon points="272,203 311.7,193.5 386.9,609.3 345,614" fill="#98f400" opacity="0.5"/>
<polygon points="30,330 66,330 84,450 140,710 30,710" fill="#f0d800" opacity="0.85"/>
<polygon points="49.2,290 75.2,290 190,700 164,700" fill="#7cf600"/>
<polygon points="73.4,262 103.4,262 226,700 196,700" fill="#d8ec00" opacity="0.6"/>
<polygon points="107.3,240 133.3,240 252.1,680 226.1,680" fill="#88f600"/>
<polygon points="183,250 195,250 276.9,640 264.9,640" fill="#90f600" opacity="0.9"/>
</g>
<g filter="url(#b5)"><polygon points="432,70 456,70 458,147 440,150 432,140" fill="#f0dc00"/><polygon points="458,121 503,118 530,112 625,82 625,140 580,132 540,140 500,132 460,130" fill="#58f600"/><polygon points="528,66 625,66 625,90 532,112" fill="#64f600"/><polygon points="530.8,147.2 577.3,132.3 625,160 625,186 577.3,188 566.2,203 540.1,206.7 527.1,180.6" fill="#ff8c00"/><polygon points="566,186 625,184 625,240 572,240" fill="#f0f000"/><polygon points="568,236 625,231 625,310 574,305" fill="#ff8400"/><polygon points="533,291 590,284 600,330 548,346" fill="#ffb400"/></g><g filter="url(#b1)"><ellipse cx="493.6" cy="268" rx="4" ry="8" fill="#f83000" opacity="0.95"/><ellipse cx="591" cy="132" rx="3.5" ry="2.5" fill="#f83000" opacity="0.9"/><ellipse cx="332" cy="128.6" rx="2.6" ry="9" fill="#ff8c00" opacity="0.9" transform="rotate(-10 332 128.6)"/><ellipse cx="346.7" cy="130.4" rx="2.6" ry="9" fill="#ff7000" opacity="0.9" transform="rotate(-10 346.7 130.4)"/><ellipse cx="600" cy="280" rx="10" ry="25" fill="#f85800" opacity="0.8"/></g>
<g transform="rotate(-21.8 148 139)" opacity="0.55"><polygon points="86.3,-24.6 281.3,53.4 264.8,113.6 245.3,213.5 221.9,234.3 157.1,232 -9.5,214.9" filter="url(#tffc800_35_0055x0012_3_30_30_3)"/></g>
<g transform="rotate(-16.7 198 112)" opacity="0.44"><polygon points="162.2,-5.2 267.5,26.4 256.4,87.8 245.9,189 221.2,208.7 170.6,210.3 158.3,139.8 161.2,67.6" filter="url(#tffc800_35_008x002_4_30_30_3)"/></g>
<polygon points="30,10 240,10 247,72 266,172 252,200 191,222 30,268" fill="#000" opacity="0.33" filter="url(#te4ee00_35_005_9_30_30_3)"/>
<g transform="rotate(-15.64 180 461)" opacity="0.39"><polygon points="87.6,234.7 255,233.8 225.4,642.6 276.2,673.8 198,674.8 140.8,689.9 -28.9,650.7" filter="url(#tffc800_25_006x0004_13_30_30_2)"/></g>
<g transform="rotate(-15.64 180 461)" opacity="0.39"><polygon points="87.6,234.7 255,233.8 225.4,642.6 276.2,673.8 198,674.8 140.8,689.9 -28.9,650.7" filter="url(#t70f600_35_0045x0004_15_30_30_2)"/></g>
<g transform="rotate(-10.76 383 394)" opacity="0.39"><polygon points="354.1,187 441.5,177.1 436.9,308.6 440.2,451.7 377.5,621 351.1,609.8" filter="url(#tffc800_25_009x0004_23_30_30_2)"/></g>
<g transform="rotate(-10.76 383 394)" opacity="0.39"><polygon points="354.1,187 441.5,177.1 436.9,308.6 440.2,451.7 377.5,621 351.1,609.8" filter="url(#t70f600_27_006x0004_25_30_30_2)"/></g>
<polygon points="247,60 372,60 398,168 316,192 266,174" fill="#000" opacity="0.39" filter="url(#t70f600_30_006_27_30_30_3)"/>
<polygon points="388,100 450,150 500,190 470,200 456,250 474,366 498,372 492,437 452,450 420,300 400,170" fill="#000" opacity="0.39" filter="url(#t70f600_30_006_28_30_30_3)"/>
<polygon points="388,100 450,150 500,190 470,200 456,250 474,366 498,372 492,437 452,450 420,300 400,170" fill="#000" opacity="0.39" filter="url(#tffc800_25_008_29_30_30_3)"/>
<g transform="rotate(-10.76 290 407.8)" opacity="0.55"><polygon points="230.4,209.9 349.9,202.6 346.4,622.3 235.6,614" filter="url(#t70f600_35_0045x0004_33_10_30_2)"/></g>
<polygon points="194.5,224.5 310.5,195 385.5,608 275,620.5" fill="#000" opacity="0.55" filter="url(#tffc800_45_017_31_10_30_3)"/>
<g transform="rotate(-10.76 290 407.8)" opacity="0.28"><polygon points="230.4,209.9 349.9,202.6 346.4,622.3 235.6,614" filter="url(#tffc800_36_006x001_32_10_30_2)"/></g>
<polygon points="498,370 520,362 560,352 625,338 625,710 548,710 528,660 500,600 480,540 492,437" fill="#000" opacity="0.55" filter="url(#tffc800_45_02_35_30_30_2)"/>
<polygon points="498,370 520,362 560,352 625,338 625,710 548,710 528,660 500,600 480,540 492,437" fill="#000" opacity="0.55" filter="url(#te4ee00_30_012_37_30_30_3)"/>
<polygon points="196,710 262,668 345,644 420,622 500,640 520,664 548,710" fill="#000" opacity="0.39" filter="url(#t70f600_35_007_45_30_30_3)"/>
<polygon points="37.6,73.4 611.6,73.4 611.6,690.9 37.6,690.9" fill="#000" opacity="0.1" filter="url(#tffc800_30_017_51_0_40_3)"/>
<polygon points="37.6,73.4 611.6,73.4 611.6,690.9 37.6,690.9" fill="#000" opacity="0.09" filter="url(#t70f600_28_015_53_0_40_3)"/>
<g filter="url(#bh)"><path d="M190 703C214 688 236 674 262 664C290 653 320 648 345 640C372 632 398 626 420 618L452 607" fill="none" stroke="#ffb000" stroke-width="9.5" stroke-linecap="round"/><path d="M366 0C371 40 376 72 384 100C391 130 400 180 406 220C412 255 426 320 434 354C442 390 446 420 452 450C464 500 484 560 500 600C512 630 528 660 552 700" fill="none" stroke="#ffb000" stroke-width="8"/><path d="M366 0C371 40 376 72 384 100C391 130 400 180 406 220C412 255 426 320 434 354C442 390 446 420 452 450C464 500 484 560 500 600C512 630 528 660 552 700" fill="none" stroke="#9cf400" stroke-width="3.6" opacity="0.85"/><path d="M366 0C371 40 376 74 387 112" fill="none" stroke="#ffb000" stroke-width="9.5"/><path d="M389 112C402 126 424 142 448 161" fill="none" stroke="#ffb000" stroke-width="7"/><path d="M389 112C402 126 424 142 448 161" fill="none" stroke="#9cf400" stroke-width="2.6" opacity="0.8"/><path d="M446 160C470 174 496 186 518 193" fill="none" stroke="#ffb000" stroke-width="7.5"/><path d="M30 268L191 222" fill="none" stroke="#ffc000" stroke-width="2" opacity="0.6"/><path d="M274 196C296 180 312 160 320 146" fill="none" stroke="#ffc000" stroke-width="2.4" opacity="0.7"/><path d="M361 176L372 240L383 300" fill="none" stroke="#ffc000" stroke-width="7" opacity="0.7" stroke-dasharray="9 3 14 4 6 3"/></g>
<g filter="url(#b1)"><polygon points="532,300 574,286 589,329 548,345" fill="#ffb800"/><polygon points="540.8,307.9 571.5,297.7 580.8,324.6 550.1,334.9" fill="#f43408"/><polygon points="455.5,94.2 521.5,83.9 527.1,108.1 459.2,119.3" fill="#f62c08"/><circle cx="519.7" cy="156.5" r="18.6" fill="#f43008"/></g>
</g></g>
<polygon points="1451.3,223.6 1571.1,196.1 1646.3,611.9 1532.9,624.5" fill="none" stroke="#050505" stroke-width="4.8" stroke-linejoin="miter"/>
<rect x="1690" y="431.1" width="151.5" height="228.4" fill="#fff"/>
<text x="1708.4" y="476.6" font-size="27.6" font-weight="bold" fill="#111">LAI</text>
<text x="1708.4" y="517.6" font-size="26.2" font-weight="bold" fill="#111">m^2/m^2</text>
<rect x="1708.2" y="534.5" width="54.7" height="59.4" fill="url(#ramp)"/>
<text x="1779.6" y="542.3" font-size="21.2" fill="#333" stroke="#333" stroke-width="0.15">3.4</text>
<text x="1779.6" y="602.3" font-size="21.2" fill="#333" stroke="#333" stroke-width="0.15">0</text>
<rect x="1300.8" y="79.8" width="566.5" height="610" fill="none" stroke="#0a0a0a" stroke-width="2.7"/>
<path d="M1396.9 78.4v12.3M1511.8 78.4v12.3M1627.3 78.4v12.3M1742.4 78.4v12.3M1858.6 78.4v12.3M1408.6 691.1v-12.3M1523.9 691.1v-12.3M1639.2 691.1v-12.3M1754.1 691.1v-12.3M1299.4 114.8h12.3M1299.4 246.5h12.3M1299.4 378.1h12.3M1299.4 510h12.3M1299.4 641.7h12.3M1868.6 102.7h-12.3M1868.6 235.3h-12.3M1868.6 367.3h-12.3M1868.6 499h-12.3M1868.6 631.1h-12.3" stroke="#0a0a0a" stroke-width="2.8" fill="none"/>
<g font-size="16.8" fill="#3c3c3c" stroke="#3c3c3c" stroke-width="0.18" text-anchor="middle"><text x="1396.9" y="64.6">30°41'49&quot;E</text><text x="1511.8" y="64.6">30°41'50&quot;E</text><text x="1627.3" y="64.6">30°41'51&quot;E</text><text x="1742.4" y="64.6">30°41'52&quot;E</text><text x="1858.6" y="64.6">30°41'53&quot;E</text><text x="1408.6" y="717.2">30°41'49&quot;E</text><text x="1523.9" y="717.2">30°41'50&quot;E</text><text x="1639.2" y="717.2">30°41'51&quot;E</text><text x="1754.1" y="717.2">30°41'52&quot;E</text><text transform="translate(1895.8 235.3) rotate(-90)">29°31'34&quot;S</text><text transform="translate(1895.8 367.3) rotate(-90)">29°31'35&quot;S</text><text transform="translate(1895.8 499) rotate(-90)">29°31'36&quot;S</text><text transform="translate(1895.8 631.1) rotate(-90)">29°31'37&quot;S</text></g>
<text x="1584.8" y="778" style='font-family:"Liberation Serif", serif' font-size="41.5" text-anchor="middle" fill="#111" stroke="#111" stroke-width="0.45">(c)</text>
<g clip-path="url(#clip_d)"><g transform="translate(-1.9 734.9)">
<rect x="57.9" y="18.1" width="556.2" height="669.7" fill="#78f600"/>
<g filter="url(#b8)">
<polygon points="30,10 240,10 247,72 266,172 252,200 191,222 30,268" fill="#98f400"/>
<polygon points="130,10 240,10 247,72 266,172 248,198 200,214 168,150 150,80" fill="#b4f000" opacity="0.7"/>
<polygon points="247,60 372,60 398,168 316,192 266,174" fill="#6cf800"/>
<polygon points="30,268 191,222 272.7,623.6 330,640 255,662 204,692 30,700" fill="#6cf800"/>
<polygon points="388,100 450,150 500,190 470,200 456,250 474,366 498,372 492,437 452,450 420,300 400,170" fill="#78f600"/>
<polygon points="498,370 520,362 560,352 625,338 625,710 548,710 528,660 500,600 480,540 492,437" fill="#c8ec00"/>
<polygon points="196,710 262,668 345,644 420,622 500,640 520,664 548,710" fill="#60f800"/>
<polygon points="470,200 530,200 552,240 560,290 530,330 500,360 474,366 462,300 456,250" fill="#54f800"/>
<polygon points="316,196 400,170 420,300 450,440 420,618 392,612" fill="#84f600"/>
</g>
<g filter="url(#b5)">
<polygon points="192.9,223.2 311.7,193.5 386.9,609.3 273.5,621.9" fill="#90f400"/>
<polygon points="272,203 311.7,193.5 386.9,609.3 345,614" fill="#68f800" opacity="0.5"/>
<polygon points="30,330 66,330 84,450 140,710 30,710" fill="#dce800" opacity="0.85"/>
<polygon points="49.2,290 75.2,290 190,700 164,700" fill="#58f800"/>
<polygon points="73.4,262 103.4,262 226,700 196,700" fill="#a0f200" opacity="0.6"/>
<polygon points="107.3,240 133.3,240 252.1,680 226.1,680" fill="#60f800"/>
<polygon points="183,250 195,250 276.9,640 264.9,640" fill="#68f800" opacity="0.9"/>
</g>
<g filter="url(#b5)"><polygon points="432,33 456,33 458,135 440,138 432,130" fill="#f0d000"/><polygon points="456.3,29.2 527,29.2 527,42.2 506.5,53.3 465.6,64.5 454.5,51.5" fill="#ff9000"/><polygon points="528,46 625,46 625,135 571,135 534,150 530,120" fill="#f4c800"/><polygon points="534.4,153.8 571.6,135.2 625,168.6 625,191 569.8,194.7 562.3,218.8 540,209.5 525.1,176" fill="#ff8c00"/><polygon points="562,191 625,191 625,243 568,243" fill="#f0ee00"/><polygon points="570,232 625,228 625,300 576,296" fill="#ff7c00"/><polygon points="533,291 590,284 600,330 548,346" fill="#f4d800"/></g><g filter="url(#b2)"><circle cx="545.6" cy="60.8" r="8.4" fill="#40ec08"/><circle cx="588.3" cy="86.8" r="15" fill="#40ec08"/><circle cx="506.5" cy="124" r="6.5" fill="#40ec08"/><circle cx="584.6" cy="124" r="8" fill="#40ec08"/><circle cx="549.3" cy="137" r="6" fill="#40ec08"/><circle cx="603" cy="159" r="8" fill="#40ec08"/><circle cx="586.5" cy="51.5" r="8" fill="#40ec08"/><circle cx="436" cy="34.8" r="4" fill="#40ec08"/><circle cx="566" cy="108" r="8" fill="#48ee08"/><circle cx="604" cy="60" r="8" fill="#48ee08"/><circle cx="570" cy="40" r="6" fill="#58f008"/></g><g filter="url(#b1)"><ellipse cx="592" cy="131.4" rx="3.5" ry="2.5" fill="#f83000" opacity="0.9"/><ellipse cx="493.5" cy="263.5" rx="4" ry="9" fill="#f84800" opacity="0.95" transform="rotate(10 493.5 263.5)"/><ellipse cx="343.8" cy="64.5" rx="2.5" ry="10" fill="#ff8400"/><ellipse cx="343" cy="126" rx="4" ry="12" fill="#f85800" transform="rotate(-12 343 126)"/><ellipse cx="445" cy="74" rx="6" ry="9" fill="#f87000" opacity="0.8"/><ellipse cx="571.6" cy="144.5" rx="6" ry="6" fill="#f86000" opacity="0.8"/><ellipse cx="600" cy="270" rx="10" ry="25" fill="#f85800" opacity="0.8"/></g>
<g transform="rotate(-21.8 148 139)" opacity="0.5"><polygon points="86.3,-24.6 281.3,53.4 264.8,113.6 245.3,213.5 221.9,234.3 157.1,232 -9.5,214.9" filter="url(#te8dc00_35_0055x0012_3_30_30_3)"/></g>
<g transform="rotate(-16.7 198 112)" opacity="0.4"><polygon points="162.2,-5.2 267.5,26.4 256.4,87.8 245.9,189 221.2,208.7 170.6,210.3 158.3,139.8 161.2,67.6" filter="url(#te8dc00_35_008x002_4_30_30_3)"/></g>
<polygon points="30,10 240,10 247,72 266,172 252,200 191,222 30,268" fill="#000" opacity="0.3" filter="url(#tc8f000_35_005_9_30_30_3)"/>
<g transform="rotate(-15.64 180 461)" opacity="0.35"><polygon points="87.6,234.7 255,233.8 225.4,642.6 276.2,673.8 198,674.8 140.8,689.9 -28.9,650.7" filter="url(#te8dc00_25_006x0004_13_30_30_2)"/></g>
<g transform="rotate(-15.64 180 461)" opacity="0.35"><polygon points="87.6,234.7 255,233.8 225.4,642.6 276.2,673.8 198,674.8 140.8,689.9 -28.9,650.7" filter="url(#t54f800_35_0045x0004_15_30_30_2)"/></g>
<g transform="rotate(-10.76 383 394)" opacity="0.35"><polygon points="354.1,187 441.5,177.1 436.9,308.6 440.2,451.7 377.5,621 351.1,609.8" filter="url(#te8dc00_25_009x0004_23_30_30_2)"/></g>
<g transform="rotate(-10.76 383 394)" opacity="0.35"><polygon points="354.1,187 441.5,177.1 436.9,308.6 440.2,451.7 377.5,621 351.1,609.8" filter="url(#t54f800_27_006x0004_25_30_30_2)"/></g>
<polygon points="247,60 372,60 398,168 316,192 266,174" fill="#000" opacity="0.35" filter="url(#t54f800_30_006_27_30_30_3)"/>
<polygon points="388,100 450,150 500,190 470,200 456,250 474,366 498,372 492,437 452,450 420,300 400,170" fill="#000" opacity="0.35" filter="url(#t54f800_30_006_28_30_30_3)"/>
<polygon points="388,100 450,150 500,190 470,200 456,250 474,366 498,372 492,437 452,450 420,300 400,170" fill="#000" opacity="0.35" filter="url(#te8dc00_25_008_29_30_30_3)"/>
<g transform="rotate(-10.76 290 407.8)" opacity="0.5"><polygon points="230.4,209.9 349.9,202.6 346.4,622.3 235.6,614" filter="url(#t54f800_35_0045x0004_33_10_30_2)"/></g>
<polygon points="194.5,224.5 310.5,195 385.5,608 275,620.5" fill="#000" opacity="0.5" filter="url(#te8dc00_35_017_31_10_30_3)"/>
<g transform="rotate(-10.76 290 407.8)" opacity="0.25"><polygon points="230.4,209.9 349.9,202.6 346.4,622.3 235.6,614" filter="url(#te8dc00_27_006x001_32_10_30_2)"/></g>
<polygon points="498,370 520,362 560,352 625,338 625,710 548,710 528,660 500,600 480,540 492,437" fill="#000" opacity="0.5" filter="url(#te8dc00_45_02_35_30_30_2)"/>
<polygon points="498,370 520,362 560,352 625,338 625,710 548,710 528,660 500,600 480,540 492,437" fill="#000" opacity="0.5" filter="url(#tc8f000_30_012_37_30_30_3)"/>
<polygon points="196,710 262,668 345,644 420,622 500,640 520,664 548,710" fill="#000" opacity="0.35" filter="url(#t54f800_35_007_45_30_30_3)"/>
<polygon points="57.9,18.1 614.1,18.1 614.1,687.8 57.9,687.8" fill="#000" opacity="0.1" filter="url(#te8dc00_30_017_51_0_40_3)"/>
<polygon points="57.9,18.1 614.1,18.1 614.1,687.8 57.9,687.8" fill="#000" opacity="0.09" filter="url(#t54f800_28_015_53_0_40_3)"/>
<g filter="url(#bh)"><path d="M190 703C214 688 236 674 262 664C290 653 320 648 345 640C372 632 398 626 420 618L452 607" fill="none" stroke="#ffb000" stroke-width="9.5" stroke-linecap="round"/><path d="M366 0C371 40 376 72 384 100C391 130 400 180 406 220C412 255 426 320 434 354C442 390 446 420 452 450C464 500 484 560 500 600C512 630 528 660 552 700" fill="none" stroke="#ffb000" stroke-width="8"/><path d="M366 0C371 40 376 72 384 100C391 130 400 180 406 220C412 255 426 320 434 354C442 390 446 420 452 450C464 500 484 560 500 600C512 630 528 660 552 700" fill="none" stroke="#78f600" stroke-width="3.6" opacity="0.85"/><path d="M366 0C371 40 376 74 387 112" fill="none" stroke="#ffb000" stroke-width="9.5"/><path d="M389 112C402 126 424 142 448 161" fill="none" stroke="#ffb000" stroke-width="7"/><path d="M389 112C402 126 424 142 448 161" fill="none" stroke="#78f600" stroke-width="2.6" opacity="0.8"/><path d="M446 160C470 174 496 186 518 193" fill="none" stroke="#ffb000" stroke-width="7.5"/><path d="M30 268L191 222" fill="none" stroke="#ffc400" stroke-width="2" opacity="0.6"/><path d="M274 196C296 180 312 160 320 146" fill="none" stroke="#ffc400" stroke-width="2.4" opacity="0.7"/><path d="M361 176L372 240L383 300" fill="none" stroke="#ffc400" stroke-width="7" opacity="0.5" stroke-dasharray="9 3 14 4 6 3"/></g>
<g filter="url(#b1)"><polygon points="532,300 574,286 589,329 548,345" fill="#f8d000"/><polygon points="540.8,307.9 571.5,297.7 580.8,324.6 550.1,334.9" fill="#f41c08"/><polygon points="455.4,94.3 523.3,84.6 527.9,108.2 460.1,120.3" fill="#f41808"/><polygon points="528,10 558.6,10 559.5,40.3 529.8,45" fill="#f41808"/><circle cx="521.4" cy="154.7" r="17.7" fill="#f01c08"/></g>
</g></g>
<polygon points="190.1,955.9 309.8,928.4 385,1344.2 271.6,1356.8" fill="none" stroke="#050505" stroke-width="4.8" stroke-linejoin="miter"/>
<rect x="436.7" y="1165.5" width="148.7" height="221.2" fill="#fff"/>
<text x="456.2" y="1211" font-size="27.2" font-weight="bold" fill="#111">LAI</text>
<text x="455.8" y="1250.5" font-size="25.2" font-weight="bold" fill="#111">m^2/m^2</text>
<rect x="455.5" y="1266.4" width="54.5" height="57" fill="url(#ramp)"/>
<text x="524" y="1273.9" font-size="20.6" fill="#333" stroke="#333" stroke-width="0.15">5.09</text>
<text x="524.4" y="1331.3" font-size="20.6" fill="#333" stroke="#333" stroke-width="0.15">0</text>
<rect x="59.8" y="756.8" width="548.7" height="662.2" fill="none" stroke="#0a0a0a" stroke-width="2.7"/>
<path d="M134.8 755.4v12.3M250.1 755.4v12.3M364.7 755.4v12.3M480 755.4v12.3M595.6 755.4v12.3M148.2 1420.3v-12.3M262.7 1420.3v-12.3M378.5 1420.3v-12.3M493.4 1420.3v-12.3M58.4 846.4h12.3M58.4 978h12.3M58.4 1110.6h12.3M58.4 1242.1h12.3M58.4 1373.7h12.3M609.8 835.8h-12.3M609.8 967.2h-12.3M609.8 1099.9h-12.3M609.8 1231.3h-12.3M609.8 1362.9h-12.3" stroke="#0a0a0a" stroke-width="2.8" fill="none"/>
<g font-size="16.8" fill="#3c3c3c" stroke="#3c3c3c" stroke-width="0.18" text-anchor="middle"><text x="148.2" y="1447.1">30°41'49&quot;E</text><text x="262.7" y="1447.1">30°41'50&quot;E</text><text x="378.5" y="1447.1">30°41'51&quot;E</text><text x="493.4" y="1447.1">30°41'52&quot;E</text><text transform="translate(44.6 846.4) rotate(-90)">29°31'33&quot;S</text><text transform="translate(44.6 978) rotate(-90)">29°31'34&quot;S</text><text transform="translate(44.6 1110.6) rotate(-90)">29°31'35&quot;S</text><text transform="translate(44.6 1242.1) rotate(-90)">29°31'36&quot;S</text><text transform="translate(44.6 1373.7) rotate(-90)">29°31'37&quot;S</text></g>
<text x="310.8" y="1517.8" style='font-family:"Liberation Serif", serif' font-size="41.5" text-anchor="middle" fill="#111" stroke="#111" stroke-width="0.45">(d)</text>
<g clip-path="url(#clip_e)"><g transform="translate(615.5 724)">
<rect x="57.3" y="34.5" width="560.8" height="662.3" fill="#94f400"/>
<g filter="url(#b8)">
<polygon points="30,10 240,10 247,72 266,172 252,200 191,222 30,268" fill="#a8f200"/>
<polygon points="130,10 240,10 247,72 266,172 248,198 200,214 168,150 150,80" fill="#b8f000" opacity="0.7"/>
<polygon points="247,60 372,60 398,168 316,192 266,174" fill="#80f600"/>
<polygon points="30,268 191,222 272.7,623.6 330,640 255,662 204,692 30,700" fill="#98f400"/>
<polygon points="388,100 450,150 500,190 470,200 456,250 474,366 498,372 492,437 452,450 420,300 400,170" fill="#84f600"/>
<polygon points="498,370 520,362 560,352 625,338 625,710 548,710 528,660 500,600 480,540 492,437" fill="#98f400"/>
<polygon points="196,710 262,668 345,644 420,622 500,640 520,664 548,710" fill="#68f800"/>
<polygon points="470,200 530,200 552,240 560,290 530,330 500,360 474,366 462,300 456,250" fill="#54f800"/>
<polygon points="316,196 400,170 420,300 450,440 420,618 392,612" fill="#9cf400"/>
</g>
<g filter="url(#b5)">
<polygon points="192.9,223.2 311.7,193.5 386.9,609.3 273.5,621.9" fill="#a8f200"/>
<polygon points="272,203 311.7,193.5 386.9,609.3 345,614" fill="#80f800" opacity="0.4"/>
<polygon points="30,330 66,330 84,450 140,710 30,710" fill="#d0ee00" opacity="0.85"/>
<polygon points="49.2,290 75.2,290 190,700 164,700" fill="#7cf800"/>
<polygon points="73.4,262 103.4,262 226,700 196,700" fill="#c0f000" opacity="0.6"/>
<polygon points="107.3,240 133.3,240 252.1,680 226.1,680" fill="#84f800"/>
<polygon points="183,250 195,250 276.9,640 264.9,640" fill="#80f800" opacity="0.9"/>
</g>
<g filter="url(#b3)"><polygon points="538,174 572,170 575,202 545,206" fill="#ecf000"/><polygon points="571.8,194.5 603.4,183.3 625,202 625,239 594,226 571.8,220.5 560.6,205.7" fill="#ffb000"/><polygon points="588,250 625,240 625,310 596,300" fill="#ff9800"/></g><g filter="url(#b1)"><polygon points="521.6,36 553.2,36 552,52 540,59 524,54" fill="#f41c08"/><ellipse cx="508.6" cy="60.6" rx="3" ry="5" fill="#f85000" opacity="0.9" transform="rotate(30 508.6 60.6)"/><ellipse cx="570" cy="53" rx="3" ry="3.5" fill="#ff7000" opacity="0.9"/><ellipse cx="573.7" cy="138.7" rx="8" ry="7" fill="#f83010" opacity="0.95" transform="rotate(-30 573.7 138.7)"/><ellipse cx="590" cy="134" rx="4" ry="4" fill="#ff9000" opacity="0.9"/><ellipse cx="576" cy="105" rx="9" ry="9" fill="#ff8c00" opacity="0.8"/><polygon points="558.8,229.8 573.7,228 581,239 594,246.6 598,256 585,257.7 572,250 560.6,239" fill="#f41408"/><polygon points="596,262 625,250 625,300 606,296" fill="#f83c08" opacity="0.9"/><ellipse cx="491" cy="270" rx="7" ry="14" fill="#ffb000" opacity="0.8" transform="rotate(15 491 270)"/><ellipse cx="336" cy="91" rx="14" ry="9" fill="#f83808" opacity="0.95" transform="rotate(-25 336 91)"/><ellipse cx="347" cy="127.5" rx="6" ry="11" fill="#ffa000" opacity="0.9"/><ellipse cx="554" cy="170" rx="5" ry="4" fill="#f0f000" opacity="0.8"/></g>
<g transform="rotate(-21.8 148 139)" opacity="0.45"><polygon points="86.3,-24.6 281.3,53.4 264.8,113.6 245.3,213.5 221.9,234.3 157.1,232 -9.5,214.9" filter="url(#te0ea00_30_0055x0012_3_30_30_3)"/></g>
<g transform="rotate(-16.7 198 112)" opacity="0.36"><polygon points="162.2,-5.2 267.5,26.4 256.4,87.8 245.9,189 221.2,208.7 170.6,210.3 158.3,139.8 161.2,67.6" filter="url(#te0ea00_30_008x002_4_30_30_3)"/></g>
<polygon points="30,10 240,10 247,72 266,172 252,200 191,222 30,268" fill="#000" opacity="0.27" filter="url(#tccf000_35_005_9_30_30_3)"/>
<g transform="rotate(-15.64 180 461)" opacity="0.32"><polygon points="87.6,234.7 255,233.8 225.4,642.6 276.2,673.8 198,674.8 140.8,689.9 -28.9,650.7" filter="url(#te0ea00_25_006x0004_13_30_30_2)"/></g>
<g transform="rotate(-15.64 180 461)" opacity="0.32"><polygon points="87.6,234.7 255,233.8 225.4,642.6 276.2,673.8 198,674.8 140.8,689.9 -28.9,650.7" filter="url(#t64f800_35_0045x0004_15_30_30_2)"/></g>
<g transform="rotate(-10.76 383 394)" opacity="0.32"><polygon points="354.1,187 441.5,177.1 436.9,308.6 440.2,451.7 377.5,621 351.1,609.8" filter="url(#te0ea00_20_009x0004_23_30_30_2)"/></g>
<g transform="rotate(-10.76 383 394)" opacity="0.32"><polygon points="354.1,187 441.5,177.1 436.9,308.6 440.2,451.7 377.5,621 351.1,609.8" filter="url(#t64f800_27_006x0004_25_30_30_2)"/></g>
<polygon points="247,60 372,60 398,168 316,192 266,174" fill="#000" opacity="0.32" filter="url(#t64f800_30_006_27_30_30_3)"/>
<polygon points="388,100 450,150 500,190 470,200 456,250 474,366 498,372 492,437 452,450 420,300 400,170" fill="#000" opacity="0.32" filter="url(#t64f800_30_006_28_30_30_3)"/>
<polygon points="388,100 450,150 500,190 470,200 456,250 474,366 498,372 492,437 452,450 420,300 400,170" fill="#000" opacity="0.32" filter="url(#te0ea00_25_008_29_30_30_3)"/>
<g transform="rotate(-10.76 290 407.8)" opacity="0.45"><polygon points="230.4,209.9 349.9,202.6 346.4,622.3 235.6,614" filter="url(#t64f800_35_0045x0004_33_10_30_2)"/></g>
<polygon points="194.5,224.5 310.5,195 385.5,608 275,620.5" fill="#000" opacity="0.45" filter="url(#te0ea00_30_017_31_10_30_3)"/>
<g transform="rotate(-10.76 290 407.8)" opacity="0.23"><polygon points="230.4,209.9 349.9,202.6 346.4,622.3 235.6,614" filter="url(#te0ea00_24_006x001_32_10_30_2)"/></g>
<polygon points="498,370 520,362 560,352 625,338 625,710 548,710 528,660 500,600 480,540 492,437" fill="#000" opacity="0.45" filter="url(#te0ea00_30_02_35_30_30_2)"/>
<polygon points="498,370 520,362 560,352 625,338 625,710 548,710 528,660 500,600 480,540 492,437" fill="#000" opacity="0.45" filter="url(#tccf000_30_012_37_30_30_3)"/>
<polygon points="196,710 262,668 345,644 420,622 500,640 520,664 548,710" fill="#000" opacity="0.32" filter="url(#t64f800_35_007_45_30_30_3)"/>
<polygon points="57.3,34.5 618.1,34.5 618.1,696.8 57.3,696.8" fill="#000" opacity="0.1" filter="url(#te0ea00_30_017_51_0_40_3)"/>
<polygon points="57.3,34.5 618.1,34.5 618.1,696.8 57.3,696.8" fill="#000" opacity="0.09" filter="url(#t64f800_28_015_53_0_40_3)"/>
<g filter="url(#bh)"><path d="M190 703C214 688 236 674 262 664C290 653 320 648 345 640C372 632 398 626 420 618L452 607" fill="none" stroke="#c4f000" stroke-width="9.5" stroke-linecap="round"/><path d="M366 0C371 40 376 72 384 100C391 130 400 180 406 220C412 255 426 320 434 354C442 390 446 420 452 450C464 500 484 560 500 600C512 630 528 660 552 700" fill="none" stroke="#c4f000" stroke-width="8"/><path d="M366 0C371 40 376 72 384 100C391 130 400 180 406 220C412 255 426 320 434 354C442 390 446 420 452 450C464 500 484 560 500 600C512 630 528 660 552 700" fill="none" stroke="#84f600" stroke-width="3.6" opacity="0.85"/><path d="M366 0C371 40 376 74 387 112" fill="none" stroke="#c4f000" stroke-width="9.5"/><path d="M389 112C402 126 424 142 448 161" fill="none" stroke="#c4f000" stroke-width="7"/><path d="M389 112C402 126 424 142 448 161" fill="none" stroke="#84f600" stroke-width="2.6" opacity="0.8"/><path d="M446 160C470 174 496 186 518 193" fill="none" stroke="#c4f000" stroke-width="7.5"/><path d="M30 268L191 222" fill="none" stroke="#d0f000" stroke-width="2" opacity="0.6"/><path d="M274 196C296 180 312 160 320 146" fill="none" stroke="#d0f000" stroke-width="2.4" opacity="0.7"/><path d="M361 176L372 240L383 300" fill="none" stroke="#d0f000" stroke-width="7" opacity="0.3" stroke-dasharray="9 3 14 4 6 3"/></g>
<g filter="url(#b1)"><polygon points="533,312 548,346 585,333 588,320" fill="#f84010" opacity="0.9"/><polygon points="540,300 575,289 584,322 550,334" fill="#f4dc00"/><path d="M546 300L552 318M552 298L558 316M558 296L564 314M564 294L570 312M570 292L576 310" fill="none" stroke="#ff8c00" stroke-width="2"/><polygon points="452.8,109 456.5,97 458.4,122.9 450.9,117.3" fill="#f84010"/><polygon points="456.5,96 521.6,85.7 528.1,106.2 458.4,122.9" fill="#ff7410"/><ellipse cx="519.7" cy="161" rx="20" ry="24" fill="#ff8c08" transform="rotate(20 519.7 161)"/><ellipse cx="517" cy="166" rx="13" ry="15" fill="#f83010" opacity="0.95" transform="rotate(20 517 166)"/></g>
</g></g>
<polygon points="807.4,945 927.2,917.5 1002.4,1333.3 889,1345.9" fill="none" stroke="#050505" stroke-width="4.8" stroke-linejoin="miter"/>
<rect x="1060.9" y="1179.4" width="149.6" height="217.5" fill="#fff"/>
<text x="1080.8" y="1223.1" font-size="27" font-weight="bold" fill="#111">LAI</text>
<text x="1080.4" y="1262.2" font-size="24.9" font-weight="bold" fill="#111">m^2/m^2</text>
<rect x="1080" y="1278.3" width="56.5" height="56.3" fill="url(#ramp)"/>
<text x="1152" y="1285.2" font-size="20.6" fill="#333" stroke="#333" stroke-width="0.15">6.18</text>
<text x="1152.3" y="1341.5" font-size="20.6" fill="#333" stroke="#333" stroke-width="0.15">0</text>
<rect x="676.5" y="762.2" width="553.3" height="654.8" fill="none" stroke="#0a0a0a" stroke-width="2.7"/>
<path d="M752.5 760.9v12.3M867.8 760.9v12.3M983 760.9v12.3M1098 760.9v12.3M1213.3 760.9v12.3M765.9 1418.4v-12.3M880.8 1418.4v-12.3M996.1 1418.4v-12.3M1111.4 1418.4v-12.3M1227.3 1418.4v-12.3M675.2 835.2h12.3M675.2 967.2h12.3M675.2 1099.5h12.3M675.2 1231.1h12.3M675.2 1363h12.3M1231.2 824.6h-12.3M1231.2 955.7h-12.3M1231.2 1088.7h-12.3M1231.2 1220.3h-12.3M1231.2 1351.9h-12.3" stroke="#0a0a0a" stroke-width="2.8" fill="none"/>
<g font-size="16.8" fill="#3c3c3c" stroke="#3c3c3c" stroke-width="0.18" text-anchor="middle"><text x="765.9" y="1444.7">30°41'49&quot;E</text><text x="880.8" y="1444.7">30°41'50&quot;E</text><text x="996.1" y="1444.7">30°41'51&quot;E</text><text x="1111.4" y="1444.7">30°41'52&quot;E</text><text x="1227.3" y="1444.7">30°41'53&quot;E</text><text transform="translate(1258 824.6) rotate(-90)">29°31'33&quot;S</text><text transform="translate(1258 955.7) rotate(-90)">29°31'34&quot;S</text><text transform="translate(1258 1088.7) rotate(-90)">29°31'35&quot;S</text><text transform="translate(1258 1220.3) rotate(-90)">29°31'36&quot;S</text><text transform="translate(1258 1351.9) rotate(-90)">29°31'37&quot;S</text></g>
<text x="960.6" y="1508.5" style='font-family:"Liberation Serif", serif' font-size="41.5" text-anchor="middle" fill="#111" stroke="#111" stroke-width="0.45">(e)</text>
<g><circle cx="1558" cy="1002.3" r="37" fill="#fff" stroke="#000" stroke-width="5.6"/><circle cx="1558" cy="1002.3" r="36.4" fill="none" stroke="#fff" stroke-width="1.1"/><circle cx="1574.6" cy="962.1" r="1.1" fill="#777"/><circle cx="1598.2" cy="985.7" r="1.1" fill="#777"/><circle cx="1598.2" cy="1018.9" r="1.1" fill="#777"/><circle cx="1574.6" cy="1042.5" r="1.1" fill="#777"/><circle cx="1541.4" cy="1042.5" r="1.1" fill="#777"/><circle cx="1517.8" cy="1018.9" r="1.1" fill="#777"/><circle cx="1517.8" cy="985.7" r="1.1" fill="#777"/><circle cx="1541.4" cy="962.1" r="1.1" fill="#777"/><polygon points="1558,1002.3 1558,991.3 1580.6,979.7 1569,1002.3" fill="#555" stroke="#000" stroke-width="0.8"/><polygon points="1558,1002.3 1569,1002.3 1580.6,979.7" fill="#000"/><polygon points="1558,1002.3 1569,1002.3 1580.6,1024.9 1558,1013.3" fill="#555" stroke="#000" stroke-width="0.8"/><polygon points="1558,1002.3 1558,1013.3 1580.6,1024.9" fill="#000"/><polygon points="1558,1002.3 1558,1013.3 1535.4,1024.9 1547,1002.3" fill="#555" stroke="#000" stroke-width="0.8"/><polygon points="1558,1002.3 1547,1002.3 1535.4,1024.9" fill="#000"/><polygon points="1558,1002.3 1547,1002.3 1535.4,979.7 1558,991.3" fill="#555" stroke="#000" stroke-width="0.8"/><polygon points="1558,1002.3 1558,991.3 1535.4,979.7" fill="#000"/><polygon points="1558,1002.3 1550.6,994.9 1558,956 1565.4,994.9" fill="#fff" stroke="#000" stroke-width="0.8"/><polygon points="1558,1002.3 1565.4,994.9 1558,956" fill="#000"/><polygon points="1558,1002.3 1565.4,994.9 1604.3,1002.3 1565.4,1009.7" fill="#fff" stroke="#000" stroke-width="0.8"/><polygon points="1558,1002.3 1565.4,1009.7 1604.3,1002.3" fill="#000"/><polygon points="1558,1002.3 1565.4,1009.7 1558,1048.6 1550.6,1009.7" fill="#fff" stroke="#000" stroke-width="0.8"/><polygon points="1558,1002.3 1550.6,1009.7 1558,1048.6" fill="#000"/><polygon points="1558,1002.3 1550.6,1009.7 1511.7,1002.3 1550.6,994.9" fill="#fff" stroke="#000" stroke-width="0.8"/><polygon points="1558,1002.3 1550.6,994.9 1511.7,1002.3" fill="#000"/><g style='font-family:"Liberation Serif", serif' font-weight="bold" font-size="22.5" text-anchor="middle" fill="#1a1a1a"><text x="1558.2" y="951.4">N</text><text x="1558.2" y="1070">S</text><text x="1499.6" y="1010.3">W</text><text x="1614" y="1011.2">E</text></g></g>
<path d="M1438.3 1124.4H1668.8M1439.5 1124.4V1148.8M1468 1124.4V1141.8M1496.5 1124.4V1141.8M1525 1124.4V1141.8M1553.5 1124.4V1148.8M1582 1124.4V1141.8M1610.6 1124.4V1141.8M1639.1 1124.4V1141.8M1667.6 1124.4V1148.8" stroke="#3a3a3a" stroke-width="2.5" fill="none"/><text x="1439.8" y="1188.9" font-size="34.7" text-anchor="middle" fill="#1c1c1c">0</text><text x="1647.5" y="1188.9" font-size="34.7" fill="#1c1c1c">20 Meters</text>
</svg></body></html>
